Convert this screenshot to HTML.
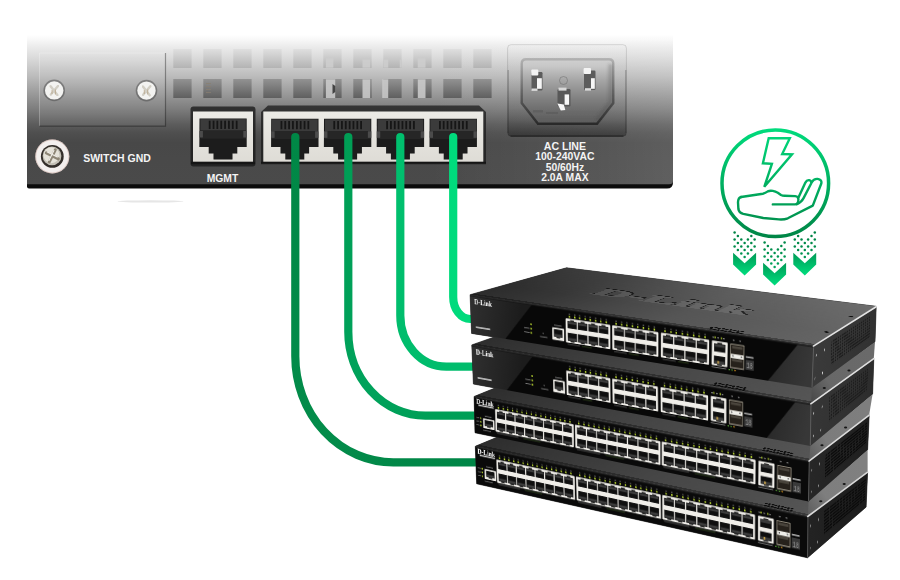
<!DOCTYPE html>
<html><head><meta charset="utf-8"><title>Stack diagram</title>
<style>
html,body{margin:0;padding:0;background:#fff}
body{width:900px;height:580px;overflow:hidden;position:relative;font-family:"Liberation Sans",sans-serif}
svg{position:absolute;left:0;top:0;display:block}
svg text{font-family:"Liberation Sans",sans-serif}
svg text.fs{font-family:"Liberation Serif",serif}
svg text.fm{font-family:"Liberation Mono",monospace}
.face{position:absolute;left:0;top:0;transform-origin:0 0;overflow:hidden}
</style></head><body>
<svg width="900" height="580" viewBox="0 0 900 580">
<defs>
<linearGradient id="pg" x1="0" y1="35" x2="0" y2="184.3" gradientUnits="userSpaceOnUse">
<stop offset="0.0000" stop-color="#ffffff"/>
<stop offset="0.0335" stop-color="#f7f7f7"/>
<stop offset="0.0636" stop-color="#efefef"/>
<stop offset="0.1708" stop-color="#d6d6d6"/>
<stop offset="0.2780" stop-color="#bbbbbb"/>
<stop offset="0.3851" stop-color="#9c9c9c"/>
<stop offset="0.4923" stop-color="#7e7e7e"/>
<stop offset="0.5995" stop-color="#5c5c5c"/>
<stop offset="0.6564" stop-color="#4f4f4f"/>
<stop offset="0.7200" stop-color="#484848"/>
<stop offset="0.8372" stop-color="#494949"/>
<stop offset="1.0000" stop-color="#4a4a4a"/>
</linearGradient>
<linearGradient id="vg" x1="0" y1="49" x2="0" y2="98" gradientUnits="userSpaceOnUse">
<stop offset="0.0000" stop-color="#dfdfdf"/>
<stop offset="0.3878" stop-color="#b3b3b3"/>
<stop offset="0.6122" stop-color="#929292"/>
<stop offset="1.0000" stop-color="#5f5f5f"/>
</linearGradient>
<linearGradient id="cav" x1="0" y1="0" x2="0" y2="1">
<stop offset="0" stop-color="#3a3a3a"/><stop offset="0.35" stop-color="#1c1c1c"/><stop offset="1" stop-color="#0c0c0c"/>
</linearGradient>
<linearGradient id="frame" x1="0" y1="0" x2="0" y2="1">
<stop offset="0" stop-color="#ecebe6"/><stop offset="1" stop-color="#dedcd6"/>
</linearGradient>
<linearGradient id="acg" x1="0" y1="44" x2="0" y2="137" gradientUnits="userSpaceOnUse">
<stop offset="0" stop-color="#000" stop-opacity="0"/><stop offset="0.5" stop-color="#000" stop-opacity=".04"/><stop offset="0.82" stop-color="#000" stop-opacity=".12"/><stop offset="0.94" stop-color="#000" stop-opacity=".25"/><stop offset="1" stop-color="#000" stop-opacity=".33"/>
</linearGradient>
<linearGradient id="acg2" x1="0" y1="59" x2="0" y2="124" gradientUnits="userSpaceOnUse"><stop offset="0.000" stop-color="#d0d0d0"/><stop offset="0.108" stop-color="#c8c8c8"/><stop offset="0.323" stop-color="#a6a6a6"/><stop offset="0.631" stop-color="#7e7e7e"/><stop offset="0.815" stop-color="#6a6a6a"/><stop offset="1.000" stop-color="#5a5a5a"/></linearGradient>
<linearGradient id="acrim" x1="0" y1="59" x2="0" y2="124" gradientUnits="userSpaceOnUse">
<stop offset="0" stop-color="#9a9a9a" stop-opacity=".6"/><stop offset="0.5" stop-color="#5a5a5a" stop-opacity=".8"/><stop offset="1" stop-color="#2a2a2a"/>
</linearGradient>
<radialGradient id="scr" cx="0.45" cy="0.4" r="0.6">
<stop offset="0" stop-color="#ffffff"/><stop offset="0.7" stop-color="#e4e2da"/><stop offset="1" stop-color="#9a978c"/>
</radialGradient>
<linearGradient id="plr" x1="430" y1="0" x2="673" y2="0" gradientUnits="userSpaceOnUse"><stop offset="0" stop-color="#fff" stop-opacity="0"/><stop offset="0.29" stop-color="#fff" stop-opacity=".03"/><stop offset="0.7" stop-color="#fff" stop-opacity=".075"/><stop offset="1" stop-color="#fff" stop-opacity=".12"/></linearGradient>
<filter id="b05" x="-10%" y="-10%" width="120%" height="120%"><feGaussianBlur stdDeviation="0.4"/></filter>
<filter id="b1" x="-10%" y="-10%" width="120%" height="120%"><feGaussianBlur stdDeviation="0.6"/></filter>
<filter id="b2" x="-20%" y="-20%" width="140%" height="140%"><feGaussianBlur stdDeviation="1.5"/></filter>
</defs>
<path d="M27,35 H673 V182.6 Q673,188.6 667,188.6 H29 Q27,188.6 27,186.6 Z" fill="#0c0c0c"/>
<path d="M27,35 H673 V181 Q673,184.3 669,184.3 H27 Z" fill="url(#pg)"/>
<path d="M430,35 H673 V181 Q673,184.3 669,184.3 H430 Z" fill="url(#plr)"/>
<ellipse cx="150.5" cy="201.4" rx="33" ry="1.1" fill="#e6e6e6" filter="url(#b1)"/>
<rect x="39.5" y="53" width="126" height="73.2" fill="#fff" opacity=".05"/>
<path d="M39.5,126.2 V53 H165.5" fill="none" stroke="#fff" stroke-opacity=".25" stroke-width="1"/>
<path d="M39.5,126.2 H165.5 V53" fill="none" stroke="#000" stroke-opacity=".35" stroke-width="1.2"/>
<circle cx="54.2" cy="90.4" r="10.8" fill="#4a4a4a" opacity=".5" filter="url(#b1)"/>
<circle cx="54.2" cy="90.4" r="9.2" fill="#f3f3f1" filter="url(#b05)"/>
<path d="M50.6,86.2 L57.400000000000006,95.0 M58.0,86.0 L50.800000000000004,94.60000000000001" stroke="#b8b2a2" stroke-width="2.4" stroke-linecap="round" opacity=".55" filter="url(#b05)"/>
<path d="M55.400000000000006,89.4 v5 M52.0,89.9 v4" stroke="#a88f6a" stroke-width="1.1" opacity=".5"/>
<circle cx="146.5" cy="90.6" r="10.8" fill="#4a4a4a" opacity=".5" filter="url(#b1)"/>
<circle cx="146.5" cy="90.6" r="9.2" fill="#f3f3f1" filter="url(#b05)"/>
<path d="M142.9,86.39999999999999 L149.7,95.19999999999999 M150.3,86.19999999999999 L143.1,94.8" stroke="#b8b2a2" stroke-width="2.4" stroke-linecap="round" opacity=".55" filter="url(#b05)"/>
<path d="M147.7,89.6 v5 M144.3,90.1 v4" stroke="#a88f6a" stroke-width="1.1" opacity=".5"/>
<circle cx="52.3" cy="156.4" r="17" fill="#f3efee"/>
<circle cx="52.3" cy="156.4" r="16.6" fill="none" stroke="#c9a8a0" stroke-width=".8" opacity=".7"/>
<circle cx="52.3" cy="156.4" r="11.4" fill="#332e2a"/>
<circle cx="52.0" cy="155.9" r="9.4" fill="#c4c0b6"/>
<circle cx="51.5" cy="155.20000000000002" r="8.0" fill="#e6e3da"/>
<path d="M46.3,152.9 L58.3,158.9 M55.3,149.9 L49.3,161.9" stroke="#8e8676" stroke-width="3" stroke-linecap="round"/>
<path d="M47.3,152.1 L57.3,157.1 M53.9,150.4 L48.9,160.4" stroke="#f2f0ea" stroke-width="1.1" stroke-linecap="round"/>
<text x="83.2" y="162.3" font-size="10.8" font-weight="700" fill="#f4f4f4" textLength="67.6" lengthAdjust="spacingAndGlyphs">SWITCH GND</text>
<text x="206.7" y="181.7" font-size="10.5" font-weight="700" fill="#f4f4f4" textLength="31.6" lengthAdjust="spacingAndGlyphs">MGMT</text>
<rect x="173.3" y="49" width="18.3" height="19" fill="url(#vg)"/>
<rect x="203.3" y="49" width="18.3" height="19" fill="url(#vg)"/>
<rect x="233.3" y="49" width="18.3" height="19" fill="url(#vg)"/>
<rect x="263.3" y="49" width="18.3" height="19" fill="url(#vg)"/>
<rect x="293.3" y="49" width="18.3" height="19" fill="url(#vg)"/>
<rect x="323.3" y="49" width="18.3" height="19" fill="url(#vg)"/>
<rect x="353.3" y="49" width="18.3" height="19" fill="url(#vg)"/>
<rect x="383.3" y="49" width="18.3" height="19" fill="url(#vg)"/>
<rect x="413.3" y="49" width="18.3" height="19" fill="url(#vg)"/>
<rect x="443.3" y="49" width="18.3" height="19" fill="url(#vg)"/>
<rect x="473.3" y="49" width="18.3" height="19" fill="url(#vg)"/>
<rect x="173.3" y="79" width="18.3" height="19" fill="url(#vg)"/>
<rect x="203.3" y="79" width="18.3" height="19" fill="url(#vg)"/>
<rect x="233.3" y="79" width="18.3" height="19" fill="url(#vg)"/>
<rect x="263.3" y="79" width="18.3" height="19" fill="url(#vg)"/>
<rect x="293.3" y="79" width="18.3" height="19" fill="url(#vg)"/>
<rect x="323.3" y="79" width="18.3" height="19" fill="url(#vg)"/>
<rect x="353.3" y="79" width="18.3" height="19" fill="url(#vg)"/>
<rect x="383.3" y="79" width="18.3" height="19" fill="url(#vg)"/>
<rect x="413.3" y="79" width="18.3" height="19" fill="url(#vg)"/>
<rect x="443.3" y="79" width="18.3" height="19" fill="url(#vg)"/>
<rect x="473.3" y="79" width="18.3" height="19" fill="url(#vg)"/>
<rect x="325.9" y="58.3" width="7.4" height="9.4" fill="#cfcfcf" opacity=".85" filter="url(#b05)"/>
<rect x="362.5" y="59.5" width="7.7" height="8.2" fill="#cfcfcf" opacity=".85" filter="url(#b05)"/>
<rect x="383.5" y="59.5" width="4.7" height="8.2" fill="#cfcfcf" opacity=".85" filter="url(#b05)"/>
<rect x="399.8" y="59.5" width="1.9" height="8.2" fill="#cfcfcf" opacity=".85" filter="url(#b05)"/>
<rect x="417.8" y="58.3" width="7.7" height="9.4" fill="#cfcfcf" opacity=".85" filter="url(#b05)"/>
<rect x="325.9" y="79.3" width="9.3" height="18.7" fill="#cfcfcf" opacity=".85" filter="url(#b05)"/>
<rect x="362.5" y="79.3" width="7.7" height="18.7" fill="#cfcfcf" opacity=".85" filter="url(#b05)"/>
<rect x="382.3" y="79.3" width="5.9" height="18.7" fill="#cfcfcf" opacity=".85" filter="url(#b05)"/>
<rect x="417.8" y="79.3" width="7.7" height="18.7" fill="#cfcfcf" opacity=".85" filter="url(#b05)"/>
<path d="M332.5,84 l2.8,2 v6 l-2.8,2 z" fill="#444"/>
<g fill="#8a7f70" opacity=".7"><rect x="206" y="83" width="5" height="1"/><rect x="206" y="86" width="5" height="1"/><rect x="206" y="89" width="5" height="1"/><rect x="206" y="92" width="5" height="1"/></g>
<rect x="190.5" y="106.5" width="65" height="60" rx="3" fill="#1b1b1b" opacity=".8"/>
<rect x="193" y="111.5" width="60" height="50.3" fill="url(#frame)"/>
<g filter="url(#b05)"><path d="M199.5,118.5 h47.2 v28.5 h-9.4 v6.5 h-4.8 v6 h-19.0 v-6 h-4.8 v-6.5 h-9.4 z" fill="#1a1a1a"/>
<rect x="200.3" y="119.1" width="45.6" height="11.6" fill="#3a3a3a"/>
<rect x="200.3" y="130.7" width="45.6" height="8" fill="#262626"/>
<rect x="208.8" y="120.7" width="1.7" height="8.2" fill="#141414"/>
<rect x="212.7" y="120.7" width="1.7" height="8.2" fill="#141414"/>
<rect x="216.5" y="120.7" width="1.7" height="8.2" fill="#141414"/>
<rect x="220.4" y="120.7" width="1.7" height="8.2" fill="#141414"/>
<rect x="224.2" y="120.7" width="1.7" height="8.2" fill="#141414"/>
<rect x="228.1" y="120.7" width="1.7" height="8.2" fill="#141414"/>
<rect x="231.9" y="120.7" width="1.7" height="8.2" fill="#141414"/>
<rect x="235.8" y="120.7" width="1.7" height="8.2" fill="#141414"/>
<rect x="199.5" y="131.0" width="3.4" height="6.5" fill="#4c4c4c"/>
<rect x="243.3" y="131.0" width="3.4" height="6.5" fill="#4c4c4c"/></g>
<path d="M261,163 V112 L268,105.5 H479 L486,112 V163 Z" fill="#1b1b1b" opacity=".75"/>
<rect x="263.3" y="111.5" width="220" height="50.3" fill="url(#frame)"/>
<g filter="url(#b05)"><path d="M271.2,118.8 h47.3 v28.2 h-9.4 v6.5 h-4.8 v6 h-19.0 v-6 h-4.8 v-6.5 h-9.4 z" fill="#1a1a1a"/>
<rect x="272.0" y="119.4" width="45.7" height="11.6" fill="#3a3a3a"/>
<rect x="272.0" y="131.0" width="45.7" height="8" fill="#262626"/>
<rect x="280.6" y="121.0" width="1.7" height="8.2" fill="#141414"/>
<rect x="284.4" y="121.0" width="1.7" height="8.2" fill="#141414"/>
<rect x="288.3" y="121.0" width="1.7" height="8.2" fill="#141414"/>
<rect x="292.1" y="121.0" width="1.7" height="8.2" fill="#141414"/>
<rect x="296.0" y="121.0" width="1.7" height="8.2" fill="#141414"/>
<rect x="299.8" y="121.0" width="1.7" height="8.2" fill="#141414"/>
<rect x="303.7" y="121.0" width="1.7" height="8.2" fill="#141414"/>
<rect x="307.5" y="121.0" width="1.7" height="8.2" fill="#141414"/>
<rect x="271.2" y="131.3" width="3.4" height="6.5" fill="#4c4c4c"/>
<rect x="315.1" y="131.3" width="3.4" height="6.5" fill="#4c4c4c"/></g>
<g filter="url(#b05)"><path d="M324.0,118.8 h47.3 v28.2 h-9.4 v6.5 h-4.8 v6 h-19.0 v-6 h-4.8 v-6.5 h-9.4 z" fill="#1a1a1a"/>
<rect x="324.8" y="119.4" width="45.7" height="11.6" fill="#3a3a3a"/>
<rect x="324.8" y="131.0" width="45.7" height="8" fill="#262626"/>
<rect x="333.4" y="121.0" width="1.7" height="8.2" fill="#141414"/>
<rect x="337.2" y="121.0" width="1.7" height="8.2" fill="#141414"/>
<rect x="341.1" y="121.0" width="1.7" height="8.2" fill="#141414"/>
<rect x="344.9" y="121.0" width="1.7" height="8.2" fill="#141414"/>
<rect x="348.8" y="121.0" width="1.7" height="8.2" fill="#141414"/>
<rect x="352.6" y="121.0" width="1.7" height="8.2" fill="#141414"/>
<rect x="356.5" y="121.0" width="1.7" height="8.2" fill="#141414"/>
<rect x="360.3" y="121.0" width="1.7" height="8.2" fill="#141414"/>
<rect x="324.0" y="131.3" width="3.4" height="6.5" fill="#4c4c4c"/>
<rect x="367.9" y="131.3" width="3.4" height="6.5" fill="#4c4c4c"/></g>
<g filter="url(#b05)"><path d="M376.8,118.8 h47.3 v28.2 h-9.4 v6.5 h-4.8 v6 h-19.0 v-6 h-4.8 v-6.5 h-9.4 z" fill="#1a1a1a"/>
<rect x="377.6" y="119.4" width="45.7" height="11.6" fill="#3a3a3a"/>
<rect x="377.6" y="131.0" width="45.7" height="8" fill="#262626"/>
<rect x="386.2" y="121.0" width="1.7" height="8.2" fill="#141414"/>
<rect x="390.0" y="121.0" width="1.7" height="8.2" fill="#141414"/>
<rect x="393.9" y="121.0" width="1.7" height="8.2" fill="#141414"/>
<rect x="397.7" y="121.0" width="1.7" height="8.2" fill="#141414"/>
<rect x="401.6" y="121.0" width="1.7" height="8.2" fill="#141414"/>
<rect x="405.4" y="121.0" width="1.7" height="8.2" fill="#141414"/>
<rect x="409.3" y="121.0" width="1.7" height="8.2" fill="#141414"/>
<rect x="413.1" y="121.0" width="1.7" height="8.2" fill="#141414"/>
<rect x="376.8" y="131.3" width="3.4" height="6.5" fill="#4c4c4c"/>
<rect x="420.7" y="131.3" width="3.4" height="6.5" fill="#4c4c4c"/></g>
<g filter="url(#b05)"><path d="M429.6,118.8 h47.3 v28.2 h-9.4 v6.5 h-4.8 v6 h-19.0 v-6 h-4.8 v-6.5 h-9.4 z" fill="#1a1a1a"/>
<rect x="430.4" y="119.4" width="45.7" height="11.6" fill="#3a3a3a"/>
<rect x="430.4" y="131.0" width="45.7" height="8" fill="#262626"/>
<rect x="439.0" y="121.0" width="1.7" height="8.2" fill="#141414"/>
<rect x="442.8" y="121.0" width="1.7" height="8.2" fill="#141414"/>
<rect x="446.7" y="121.0" width="1.7" height="8.2" fill="#141414"/>
<rect x="450.5" y="121.0" width="1.7" height="8.2" fill="#141414"/>
<rect x="454.4" y="121.0" width="1.7" height="8.2" fill="#141414"/>
<rect x="458.2" y="121.0" width="1.7" height="8.2" fill="#141414"/>
<rect x="462.1" y="121.0" width="1.7" height="8.2" fill="#141414"/>
<rect x="465.9" y="121.0" width="1.7" height="8.2" fill="#141414"/>
<rect x="429.6" y="131.3" width="3.4" height="6.5" fill="#4c4c4c"/>
<rect x="473.5" y="131.3" width="3.4" height="6.5" fill="#4c4c4c"/></g>
<rect x="261" y="161.8" width="225" height="2.4" fill="#111" opacity=".8"/>
<rect x="191" y="161.8" width="64" height="2.4" fill="#111" opacity=".8"/>
<rect x="507.6" y="44.7" width="118.8" height="91.6" rx="3.5" fill="url(#acg)"/>
<rect x="507.6" y="44.7" width="118.8" height="91.6" rx="3.5" fill="none" stroke="#000" stroke-opacity=".12" stroke-width="1"/>
<path d="M526,59.3 H609 Q613.3,59.3 613.3,63.6 V103 L597,123.8 H538 L521.7,103 V63.6 Q521.7,59.3 526,59.3 Z" fill="url(#acg2)" stroke="url(#acrim)" stroke-width="2.4" filter="url(#b1)"/>
<path d="M610.5,64 V102 L596,121" fill="none" stroke="#444" stroke-opacity=".3" stroke-width="4" filter="url(#b2)"/>
<path d="M510.5,136.2 H623.5" fill="none" stroke="#181818" stroke-opacity=".7" stroke-width="1.3"/>
<path d="M508.2,70 V133 M625.8,70 V133" fill="none" stroke="#181818" stroke-opacity=".25" stroke-width="1.2"/>
<path d="M597,122.6 H538" fill="none" stroke="#262626" stroke-opacity=".9" stroke-width="2.6" filter="url(#b1)"/>
<g filter="url(#b05)">
<rect x="531.5" y="72" width="11" height="18.5" rx="1.2" fill="#5c5c5c"/><rect x="531.3" y="69.4" width="7" height="6" rx="1" fill="#f4f4f4"/><rect x="537" y="78.2" width="4.8" height="10.6" fill="#f6f6f6"/><rect x="531.5" y="88.5" width="6" height="2.4" fill="#dcdcdc"/>
<rect x="584" y="70.5" width="11.5" height="19.5" rx="1.2" fill="#5c5c5c"/><rect x="583.6" y="68" width="7.4" height="6" rx="1" fill="#f4f4f4"/><rect x="591" y="78.2" width="3.8" height="10.6" fill="#f6f6f6"/><rect x="585" y="88.2" width="6" height="2.4" fill="#dcdcdc"/>
<rect x="557.5" y="89" width="13" height="17.5" rx="1.2" fill="#585858"/><rect x="558.5" y="87.6" width="8" height="3" fill="#d8d8d8"/><rect x="564.6" y="94.4" width="4.5" height="10.4" fill="#f6f6f6"/><path d="M557.3,103.5 l6.5,1 l1.5,5.5 l-4.5,0.6 z" fill="#f6f6f6"/>
</g>
<circle cx="563.5" cy="80.5" r="4" fill="none" stroke="#666" stroke-width="0.8" opacity=".6"/>
<path d="M533,111 h10 M546,113.5 h12" stroke="#555" stroke-width="3" opacity=".45" filter="url(#b1)"/>
<text x="564.9" y="149.9" font-size="10.6" font-weight="700" fill="#f4f4f4" text-anchor="middle" textLength="42.2" lengthAdjust="spacingAndGlyphs">AC LINE</text>
<text x="564.9" y="160.3" font-size="10.6" font-weight="700" fill="#f4f4f4" text-anchor="middle" textLength="59.2" lengthAdjust="spacingAndGlyphs">100-240VAC</text>
<text x="564.9" y="170.6" font-size="10.6" font-weight="700" fill="#f4f4f4" text-anchor="middle" textLength="38.4" lengthAdjust="spacingAndGlyphs">50/60Hz</text>
<text x="564.9" y="181.0" font-size="10.6" font-weight="700" fill="#f4f4f4" text-anchor="middle" textLength="47.3" lengthAdjust="spacingAndGlyphs">2.0A MAX</text>
<defs>
<linearGradient id="c1" x1="295" y1="133" x2="476" y2="462" gradientUnits="userSpaceOnUse"><stop offset="0" stop-color="#008746"/><stop offset="0.75" stop-color="#038c4a"/><stop offset="1" stop-color="#008546"/></linearGradient>
<linearGradient id="c2" x1="348" y1="133" x2="474" y2="416" gradientUnits="userSpaceOnUse"><stop offset="0" stop-color="#009e55"/><stop offset="0.8" stop-color="#00a25b"/><stop offset="1" stop-color="#009e56"/></linearGradient>
<linearGradient id="c3" x1="400" y1="133" x2="472" y2="367" gradientUnits="userSpaceOnUse"><stop offset="0" stop-color="#00c06e"/><stop offset="1" stop-color="#00bc6c"/></linearGradient>
<linearGradient id="c4" x1="453" y1="133" x2="472" y2="319" gradientUnits="userSpaceOnUse"><stop offset="0" stop-color="#00dc7d"/><stop offset="1" stop-color="#00da7c"/></linearGradient>
</defs>
<path d="M295.3,137 V356.3 A98,106 0 0 0 393.3,462.3 H477" fill="none" stroke="url(#c1)" stroke-width="8.2" stroke-linecap="round"/>
<path d="M348.3,137 V331.7 A77,84 0 0 0 425.3,415.7 H476" fill="none" stroke="url(#c2)" stroke-width="8.2" stroke-linecap="round"/>
<path d="M400.3,137 V315.6 A46,51 0 0 0 446.3,366.6 H474" fill="none" stroke="url(#c3)" stroke-width="8.2" stroke-linecap="round"/>
<path d="M453.2,137 V297.0 A17,22 0 0 0 470.2,319.0 H473" fill="none" stroke="url(#c4)" stroke-width="8.2" stroke-linecap="round"/>
<defs>
<linearGradient id="ig" x1="0" y1="128" x2="0" y2="238" gradientUnits="userSpaceOnUse"><stop offset="0" stop-color="#00dc7d"/><stop offset="1" stop-color="#008546"/></linearGradient>
<linearGradient id="ag" x1="0" y1="232" x2="0" y2="270" gradientUnits="userSpaceOnUse"><stop offset="0" stop-color="#008244"/><stop offset="0.5" stop-color="#008f4d"/><stop offset="1" stop-color="#00a85e"/></linearGradient>
<linearGradient id="ag2" x1="0" y1="0" x2="0" y2="1"><stop offset="0" stop-color="#009a56"/><stop offset="1" stop-color="#00de7e"/></linearGradient>
</defs>
<circle cx="775.3" cy="183.3" r="53.3" fill="none" stroke="url(#ig)" stroke-width="3.5"/>
<path d="M768.7,138.3 L789.8,138.3 L782.2,154 L792,154.3 L764.3,186.8 L771.9,163.8 L762.9,163.3 Z" fill="none" stroke="url(#ig)" stroke-width="2.4" stroke-linejoin="miter"/>
<path d="M741.1,197 L762.8,193.7 Q765.5,193.2 767.8,191.4 Q770,190.3 772.8,190.9 Q775.5,191.5 777.8,192.8 L781,195 Q782.5,195.8 784.5,195.8 L795.2,196.1 Q798.4,196.3 798.4,199.4 Q798.3,204.4 795,204.4 L772.8,204.4" fill="none" stroke="url(#ig)" stroke-width="2.4" stroke-linejoin="round" stroke-linecap="round"/>
<path d="M798.6,197.3 L805.4,182.6 Q806.8,179.8 809.2,180.2 Q812.2,181 811,183.8 L803.3,198.6 Q801.5,202.3 797,204.2" fill="none" stroke="url(#ig)" stroke-width="2.4" stroke-linejoin="round" stroke-linecap="round"/>
<path d="M811.6,182.4 Q813.8,178.6 817.5,178.9 Q822.4,179.8 821.2,183.8 L812.8,205.6 L787.8,218.3 Q784,219.8 778.9,219.4 L763.3,218 L743.3,213.9 Q738.9,212.8 738.4,209 L738,202.2 Q738.2,197.8 741.1,197" fill="none" stroke="url(#ig)" stroke-width="2.4" stroke-linejoin="round" stroke-linecap="round"/>
<g fill="url(#ag)">
<path d="M733.1,252.8 L744.6,263.3 L756.1,252.8 V264.5 L744.6,275.6 L733.1,264.5 Z" fill="url(#ag2)"/>
<circle cx="734.6" cy="232.6" r="1.25"/>
<circle cx="734.6" cy="239.6" r="1.25"/>
<circle cx="734.6" cy="246.6" r="1.25"/>
<circle cx="737.9" cy="236.1" r="1.25"/>
<circle cx="737.9" cy="243.1" r="1.25"/>
<circle cx="737.9" cy="250.1" r="1.25"/>
<circle cx="741.3" cy="239.6" r="1.25"/>
<circle cx="741.3" cy="246.6" r="1.25"/>
<circle cx="741.3" cy="253.6" r="1.25"/>
<circle cx="744.6" cy="243.1" r="1.25"/>
<circle cx="744.6" cy="250.1" r="1.25"/>
<circle cx="744.6" cy="257.1" r="1.25"/>
<circle cx="747.9" cy="239.6" r="1.25"/>
<circle cx="747.9" cy="246.6" r="1.25"/>
<circle cx="747.9" cy="253.6" r="1.25"/>
<circle cx="751.3" cy="236.1" r="1.25"/>
<circle cx="751.3" cy="243.1" r="1.25"/>
<circle cx="751.3" cy="250.1" r="1.25"/>
<circle cx="754.6" cy="239.6" r="1.25"/>
<circle cx="754.6" cy="246.6" r="1.25"/>
<path d="M763.1,262.8 L774.6,273.3 L786.1,262.8 V274.5 L774.6,285.6 L763.1,274.5 Z" fill="url(#ag2)"/>
<circle cx="764.6" cy="242.6" r="1.25"/>
<circle cx="764.6" cy="249.6" r="1.25"/>
<circle cx="764.6" cy="256.6" r="1.25"/>
<circle cx="767.9" cy="246.1" r="1.25"/>
<circle cx="767.9" cy="253.1" r="1.25"/>
<circle cx="767.9" cy="260.1" r="1.25"/>
<circle cx="771.3" cy="249.6" r="1.25"/>
<circle cx="771.3" cy="256.6" r="1.25"/>
<circle cx="771.3" cy="263.6" r="1.25"/>
<circle cx="774.6" cy="253.1" r="1.25"/>
<circle cx="774.6" cy="260.1" r="1.25"/>
<circle cx="774.6" cy="267.1" r="1.25"/>
<circle cx="777.9" cy="249.6" r="1.25"/>
<circle cx="777.9" cy="256.6" r="1.25"/>
<circle cx="777.9" cy="263.6" r="1.25"/>
<circle cx="781.3" cy="246.1" r="1.25"/>
<circle cx="781.3" cy="253.1" r="1.25"/>
<circle cx="781.3" cy="260.1" r="1.25"/>
<circle cx="784.6" cy="242.6" r="1.25"/>
<circle cx="784.6" cy="249.6" r="1.25"/>
<circle cx="784.6" cy="256.6" r="1.25"/>
<path d="M793.3,252.8 L804.8,263.3 L816.2,252.8 V264.5 L804.8,275.6 L793.3,264.5 Z" fill="url(#ag2)"/>
<circle cx="794.8" cy="239.6" r="1.25"/>
<circle cx="794.8" cy="246.6" r="1.25"/>
<circle cx="798.1" cy="236.1" r="1.25"/>
<circle cx="798.1" cy="243.1" r="1.25"/>
<circle cx="798.1" cy="250.1" r="1.25"/>
<circle cx="801.5" cy="239.6" r="1.25"/>
<circle cx="801.5" cy="246.6" r="1.25"/>
<circle cx="801.5" cy="253.6" r="1.25"/>
<circle cx="804.8" cy="243.1" r="1.25"/>
<circle cx="804.8" cy="250.1" r="1.25"/>
<circle cx="804.8" cy="257.1" r="1.25"/>
<circle cx="808.1" cy="239.6" r="1.25"/>
<circle cx="808.1" cy="246.6" r="1.25"/>
<circle cx="808.1" cy="253.6" r="1.25"/>
<circle cx="811.5" cy="236.1" r="1.25"/>
<circle cx="811.5" cy="243.1" r="1.25"/>
<circle cx="811.5" cy="250.1" r="1.25"/>
<circle cx="814.8" cy="232.6" r="1.25"/>
<circle cx="814.8" cy="239.6" r="1.25"/>
<circle cx="814.8" cy="246.6" r="1.25"/>
</g>
<polygon points="475.3,446.3 570.4,406.8 867.6,471.8 866.1,507.1 807.5,557.8 476.7,483.8" fill="#1c1c1c" stroke="#1c1c1c" stroke-width="0.6" stroke-linejoin="round"/>
<polygon points="474.1,396.5 569.0,358.0 869.2,414.7 867.6,449.7 808.5,501.4 475.0,432.8" fill="#1c1c1c" stroke="#1c1c1c" stroke-width="0.6" stroke-linejoin="round"/>
<polygon points="471.8,344.9 568.0,311.0 873.8,358.3 872.6,393.9 810.3,446.0 473.4,384.0" fill="#1c1c1c" stroke="#1c1c1c" stroke-width="0.6" stroke-linejoin="round"/>
<polygon points="470.1,294.7 566.5,267.8 876.2,306.3 875.0,341.8 812.0,387.8 471.6,333.4" fill="#1c1c1c" stroke="#1c1c1c" stroke-width="0.6" stroke-linejoin="round"/>
</svg>
<div class="face" style="width:440px;height:260px;transform:matrix3d(0.76339504,0.19554922,0,0.00010136064,-0.54570487,-0.017033949,0,-0.00037857277,0,0,1,0,570.4,406.8,0,1)"><svg width="440" height="260" viewBox="0 0 440 260"><defs><linearGradient id="tg4" x1="0" y1="0" x2="1" y2="0"><stop offset="0" stop-color="#2e2e2e"/><stop offset="0.3" stop-color="#3c3c3c"/><stop offset="0.5" stop-color="#464646"/><stop offset="0.8" stop-color="#4e4e4e"/><stop offset="1" stop-color="#565656"/></linearGradient>
<linearGradient id="tf4" x1="0" y1="0" x2="0" y2="1"><stop offset="0" stop-color="#fff" stop-opacity=".06"/><stop offset="0.7" stop-color="#fff" stop-opacity="0"/></linearGradient></defs><rect width="440" height="260" fill="url(#tg4)"/><rect width="440" height="260" fill="url(#tf4)"/><rect x="0" y="251" width="440" height="7" fill="#000" opacity=".32"/><ellipse cx="432" cy="84" rx="2.6" ry="3.4" fill="#111"/><ellipse cx="432" cy="185" rx="2.6" ry="3.4" fill="#111"/><rect x="375.0" y="240.0" width="3.0" height="6.5" rx="1.2" fill="#0c0c0c"/><rect x="379.4" y="240.0" width="3.0" height="6.5" rx="1.2" fill="#0c0c0c"/><rect x="383.8" y="240.0" width="3.0" height="6.5" rx="1.2" fill="#0c0c0c"/><rect x="388.2" y="240.0" width="3.0" height="6.5" rx="1.2" fill="#0c0c0c"/><rect x="392.6" y="240.0" width="3.0" height="6.5" rx="1.2" fill="#0c0c0c"/><rect x="397.0" y="240.0" width="3.0" height="6.5" rx="1.2" fill="#0c0c0c"/><rect x="401.4" y="240.0" width="3.0" height="6.5" rx="1.2" fill="#0c0c0c"/><rect x="405.8" y="240.0" width="3.0" height="6.5" rx="1.2" fill="#0c0c0c"/><rect x="410.2" y="240.0" width="3.0" height="6.5" rx="1.2" fill="#0c0c0c"/><rect x="377.2" y="249.0" width="3.0" height="6.5" rx="1.2" fill="#0c0c0c"/><rect x="381.6" y="249.0" width="3.0" height="6.5" rx="1.2" fill="#0c0c0c"/><rect x="386.0" y="249.0" width="3.0" height="6.5" rx="1.2" fill="#0c0c0c"/><rect x="390.4" y="249.0" width="3.0" height="6.5" rx="1.2" fill="#0c0c0c"/><rect x="394.8" y="249.0" width="3.0" height="6.5" rx="1.2" fill="#0c0c0c"/><rect x="399.2" y="249.0" width="3.0" height="6.5" rx="1.2" fill="#0c0c0c"/><rect x="403.6" y="249.0" width="3.0" height="6.5" rx="1.2" fill="#0c0c0c"/><rect x="408.0" y="249.0" width="3.0" height="6.5" rx="1.2" fill="#0c0c0c"/><rect x="412.4" y="249.0" width="3.0" height="6.5" rx="1.2" fill="#0c0c0c"/></svg></div>
<div class="face" style="width:260px;height:44px;transform:matrix3d(0.94128621,0.21623664,0,0.00082027527,0.43559385,1.2526312,0,0.0005506932,0,0,1,0,807.9,516.2,0,1)"><svg width="260" height="44" viewBox="0 0 260 44"><defs><linearGradient id="sg4" x1="0" y1="0" x2="1" y2="0"><stop offset="0" stop-color="#232323"/><stop offset="1" stop-color="#1b1b1b"/></linearGradient>
<pattern id="vp4" x="0" y="0" width="14" height="3.4" patternUnits="userSpaceOnUse"><rect x="0.8" y="0.7" width="12.6" height="1.9" rx="0.9" fill="#0a0a0a"/></pattern></defs><rect width="260" height="44" fill="url(#sg4)"/><rect x="63" y="7.2" width="189" height="27.2" fill="url(#vp4)"/><circle cx="10.5" cy="12.2" r="1.6" fill="#808080"/><circle cx="40" cy="12.2" r="1.6" fill="#808080"/><circle cx="9.5" cy="36" r="1.6" fill="#808080"/><circle cx="37" cy="36" r="1.6" fill="#808080"/></svg></div>
<div class="face" style="width:440px;height:44px;transform:matrix3d(0.55759771,0.032154474,0,-0.00024546525,0.089355396,0.9106669,0,0.000120699,0,0,1,0,475.3,446.3,0,1)"><svg width="440" height="44" viewBox="0 0 440 44"><defs><linearGradient id="bev4" x1="0" y1="0" x2="0" y2="1"><stop offset="0" stop-color="#303030"/><stop offset="1" stop-color="#141414"/></linearGradient></defs><rect width="440" height="44" fill="#0a0a0a"/><rect width="440" height="1.6" fill="url(#bev4)"/><text x="3.0" y="7.6" class="fs" font-weight="700" font-size="7.2" fill="#fff" textLength="25.6" lengthAdjust="spacingAndGlyphs">D-Link</text><rect x="6" y="8.6" width="22.5" height="1.7" fill="#efefef" opacity=".85"/><rect x="8.2" y="23.8" width="1.8" height="1.8" fill="#b4d030"/><rect x="2.5" y="24.2" width="4.6" height="1.0" fill="#aaa" opacity=".6"/><rect x="8.2" y="28.2" width="1.8" height="1.8" fill="#b4d030"/><rect x="2.5" y="28.599999999999998" width="4.6" height="1.0" fill="#aaa" opacity=".6"/><rect x="8.2" y="32.6" width="1.8" height="1.8" fill="#b4d030"/><rect x="2.5" y="33.0" width="4.6" height="1.0" fill="#aaa" opacity=".6"/><rect x="12.5" y="24.3" width="16.7" height="11.6" rx="0.6" fill="#f0eee9"/><rect x="14.60" y="25.90" width="12.50" height="7.30" fill="#242424"/><rect x="18.23" y="33.00" width="5.25" height="1.5" fill="#242424"/><rect x="15.40" y="26.50" width="10.90" height="3.63" fill="#0f0f0f"/><rect x="15.80" y="30.72" width="10.10" height="1.90" fill="#3c3c3c"/><rect x="15" y="20.8" width="10" height="1.0" fill="#aaa" opacity=".7"/><rect x="12" y="38.2" width="12" height="1.0" fill="#aaa" opacity=".6"/><rect x="30.50" y="10.20" width="111.30" height="27.00" rx="0.8" fill="#f0eee9"/><rect x="32.90" y="12.90" width="12.18" height="8.10" fill="#242424"/><rect x="36.43" y="11.60" width="5.11" height="1.5" fill="#242424"/><rect x="33.70" y="16.30" width="10.58" height="4.10" fill="#0f0f0f"/><rect x="34.10" y="13.80" width="9.78" height="2.27" fill="#3c3c3c"/><rect x="32.90" y="26.00" width="12.18" height="9.05" fill="#242424"/><rect x="36.43" y="34.84" width="5.11" height="1.5" fill="#242424"/><rect x="33.70" y="26.60" width="10.58" height="4.65" fill="#0f0f0f"/><rect x="34.10" y="31.96" width="9.78" height="2.35" fill="#3c3c3c"/><rect x="34.60" y="6.90" width="1.7" height="2.3" fill="#b4d030"/><rect x="34.60" y="4.60" width="1.7" height="1.3" fill="#777" opacity=".8"/><rect x="41.67" y="6.90" width="1.7" height="2.3" fill="#b4d030"/><rect x="41.67" y="4.60" width="1.7" height="1.3" fill="#777" opacity=".8"/><rect x="46.38" y="12.90" width="12.18" height="8.10" fill="#242424"/><rect x="49.91" y="11.60" width="5.11" height="1.5" fill="#242424"/><rect x="47.17" y="16.30" width="10.58" height="4.10" fill="#0f0f0f"/><rect x="47.58" y="13.80" width="9.78" height="2.27" fill="#3c3c3c"/><rect x="46.38" y="26.00" width="12.18" height="9.05" fill="#242424"/><rect x="49.91" y="34.84" width="5.11" height="1.5" fill="#242424"/><rect x="47.17" y="26.60" width="10.58" height="4.65" fill="#0f0f0f"/><rect x="47.58" y="31.96" width="9.78" height="2.35" fill="#3c3c3c"/><rect x="48.08" y="6.90" width="1.7" height="2.3" fill="#b4d030"/><rect x="48.08" y="4.60" width="1.7" height="1.3" fill="#777" opacity=".8"/><rect x="55.14" y="6.90" width="1.7" height="2.3" fill="#b4d030"/><rect x="55.14" y="4.60" width="1.7" height="1.3" fill="#777" opacity=".8"/><rect x="59.85" y="12.90" width="12.18" height="8.10" fill="#242424"/><rect x="63.38" y="11.60" width="5.11" height="1.5" fill="#242424"/><rect x="60.65" y="16.30" width="10.58" height="4.10" fill="#0f0f0f"/><rect x="61.05" y="13.80" width="9.78" height="2.27" fill="#3c3c3c"/><rect x="59.85" y="26.00" width="12.18" height="9.05" fill="#242424"/><rect x="63.38" y="34.84" width="5.11" height="1.5" fill="#242424"/><rect x="60.65" y="26.60" width="10.58" height="4.65" fill="#0f0f0f"/><rect x="61.05" y="31.96" width="9.78" height="2.35" fill="#3c3c3c"/><rect x="61.55" y="6.90" width="1.7" height="2.3" fill="#b4d030"/><rect x="61.55" y="4.60" width="1.7" height="1.3" fill="#777" opacity=".8"/><rect x="68.62" y="6.90" width="1.7" height="2.3" fill="#b4d030"/><rect x="68.62" y="4.60" width="1.7" height="1.3" fill="#777" opacity=".8"/><rect x="73.33" y="12.90" width="12.18" height="8.10" fill="#242424"/><rect x="76.86" y="11.60" width="5.11" height="1.5" fill="#242424"/><rect x="74.12" y="16.30" width="10.58" height="4.10" fill="#0f0f0f"/><rect x="74.53" y="13.80" width="9.78" height="2.27" fill="#3c3c3c"/><rect x="73.33" y="26.00" width="12.18" height="9.05" fill="#242424"/><rect x="76.86" y="34.84" width="5.11" height="1.5" fill="#242424"/><rect x="74.12" y="26.60" width="10.58" height="4.65" fill="#0f0f0f"/><rect x="74.53" y="31.96" width="9.78" height="2.35" fill="#3c3c3c"/><rect x="75.03" y="6.90" width="1.7" height="2.3" fill="#b4d030"/><rect x="75.03" y="4.60" width="1.7" height="1.3" fill="#777" opacity=".8"/><rect x="82.09" y="6.90" width="1.7" height="2.3" fill="#b4d030"/><rect x="82.09" y="4.60" width="1.7" height="1.3" fill="#777" opacity=".8"/><rect x="86.80" y="12.90" width="12.18" height="8.10" fill="#242424"/><rect x="90.33" y="11.60" width="5.11" height="1.5" fill="#242424"/><rect x="87.60" y="16.30" width="10.58" height="4.10" fill="#0f0f0f"/><rect x="88.00" y="13.80" width="9.78" height="2.27" fill="#3c3c3c"/><rect x="86.80" y="26.00" width="12.18" height="9.05" fill="#242424"/><rect x="90.33" y="34.84" width="5.11" height="1.5" fill="#242424"/><rect x="87.60" y="26.60" width="10.58" height="4.65" fill="#0f0f0f"/><rect x="88.00" y="31.96" width="9.78" height="2.35" fill="#3c3c3c"/><rect x="88.50" y="6.90" width="1.7" height="2.3" fill="#b4d030"/><rect x="88.50" y="4.60" width="1.7" height="1.3" fill="#777" opacity=".8"/><rect x="95.57" y="6.90" width="1.7" height="2.3" fill="#b4d030"/><rect x="95.57" y="4.60" width="1.7" height="1.3" fill="#777" opacity=".8"/><rect x="100.28" y="12.90" width="12.18" height="8.10" fill="#242424"/><rect x="103.81" y="11.60" width="5.11" height="1.5" fill="#242424"/><rect x="101.08" y="16.30" width="10.58" height="4.10" fill="#0f0f0f"/><rect x="101.48" y="13.80" width="9.78" height="2.27" fill="#3c3c3c"/><rect x="100.28" y="26.00" width="12.18" height="9.05" fill="#242424"/><rect x="103.81" y="34.84" width="5.11" height="1.5" fill="#242424"/><rect x="101.08" y="26.60" width="10.58" height="4.65" fill="#0f0f0f"/><rect x="101.48" y="31.96" width="9.78" height="2.35" fill="#3c3c3c"/><rect x="101.98" y="6.90" width="1.7" height="2.3" fill="#b4d030"/><rect x="101.98" y="4.60" width="1.7" height="1.3" fill="#777" opacity=".8"/><rect x="109.04" y="6.90" width="1.7" height="2.3" fill="#b4d030"/><rect x="109.04" y="4.60" width="1.7" height="1.3" fill="#777" opacity=".8"/><rect x="113.75" y="12.90" width="12.18" height="8.10" fill="#242424"/><rect x="117.28" y="11.60" width="5.11" height="1.5" fill="#242424"/><rect x="114.55" y="16.30" width="10.58" height="4.10" fill="#0f0f0f"/><rect x="114.95" y="13.80" width="9.78" height="2.27" fill="#3c3c3c"/><rect x="113.75" y="26.00" width="12.18" height="9.05" fill="#242424"/><rect x="117.28" y="34.84" width="5.11" height="1.5" fill="#242424"/><rect x="114.55" y="26.60" width="10.58" height="4.65" fill="#0f0f0f"/><rect x="114.95" y="31.96" width="9.78" height="2.35" fill="#3c3c3c"/><rect x="115.45" y="6.90" width="1.7" height="2.3" fill="#b4d030"/><rect x="115.45" y="4.60" width="1.7" height="1.3" fill="#777" opacity=".8"/><rect x="122.52" y="6.90" width="1.7" height="2.3" fill="#b4d030"/><rect x="122.52" y="4.60" width="1.7" height="1.3" fill="#777" opacity=".8"/><rect x="127.23" y="12.90" width="12.18" height="8.10" fill="#242424"/><rect x="130.76" y="11.60" width="5.11" height="1.5" fill="#242424"/><rect x="128.03" y="16.30" width="10.58" height="4.10" fill="#0f0f0f"/><rect x="128.43" y="13.80" width="9.78" height="2.27" fill="#3c3c3c"/><rect x="127.23" y="26.00" width="12.18" height="9.05" fill="#242424"/><rect x="130.76" y="34.84" width="5.11" height="1.5" fill="#242424"/><rect x="128.03" y="26.60" width="10.58" height="4.65" fill="#0f0f0f"/><rect x="128.43" y="31.96" width="9.78" height="2.35" fill="#3c3c3c"/><rect x="128.93" y="6.90" width="1.7" height="2.3" fill="#b4d030"/><rect x="128.93" y="4.60" width="1.7" height="1.3" fill="#777" opacity=".8"/><rect x="135.99" y="6.90" width="1.7" height="2.3" fill="#b4d030"/><rect x="135.99" y="4.60" width="1.7" height="1.3" fill="#777" opacity=".8"/><rect x="32.50" y="38.50" width="31.16" height="0.9" fill="#9a9a9a" opacity=".5"/><rect x="70.57" y="38.50" width="24.49" height="0.9" fill="#5f8f3a" opacity=".45"/><rect x="143.90" y="10.20" width="113.60" height="27.00" rx="0.8" fill="#f0eee9"/><rect x="146.30" y="12.90" width="12.46" height="8.10" fill="#242424"/><rect x="149.91" y="11.60" width="5.23" height="1.5" fill="#242424"/><rect x="147.10" y="16.30" width="10.86" height="4.10" fill="#0f0f0f"/><rect x="147.50" y="13.80" width="10.06" height="2.27" fill="#3c3c3c"/><rect x="146.30" y="26.00" width="12.46" height="9.05" fill="#242424"/><rect x="149.91" y="34.84" width="5.23" height="1.5" fill="#242424"/><rect x="147.10" y="26.60" width="10.86" height="4.65" fill="#0f0f0f"/><rect x="147.50" y="31.96" width="10.06" height="2.35" fill="#3c3c3c"/><rect x="148.04" y="6.90" width="1.7" height="2.3" fill="#b4d030"/><rect x="148.04" y="4.60" width="1.7" height="1.3" fill="#777" opacity=".8"/><rect x="155.27" y="6.90" width="1.7" height="2.3" fill="#b4d030"/><rect x="155.27" y="4.60" width="1.7" height="1.3" fill="#777" opacity=".8"/><rect x="160.06" y="12.90" width="12.46" height="8.10" fill="#242424"/><rect x="163.68" y="11.60" width="5.23" height="1.5" fill="#242424"/><rect x="160.86" y="16.30" width="10.86" height="4.10" fill="#0f0f0f"/><rect x="161.26" y="13.80" width="10.06" height="2.27" fill="#3c3c3c"/><rect x="160.06" y="26.00" width="12.46" height="9.05" fill="#242424"/><rect x="163.68" y="34.84" width="5.23" height="1.5" fill="#242424"/><rect x="160.86" y="26.60" width="10.86" height="4.65" fill="#0f0f0f"/><rect x="161.26" y="31.96" width="10.06" height="2.35" fill="#3c3c3c"/><rect x="161.81" y="6.90" width="1.7" height="2.3" fill="#b4d030"/><rect x="161.81" y="4.60" width="1.7" height="1.3" fill="#777" opacity=".8"/><rect x="169.04" y="6.90" width="1.7" height="2.3" fill="#b4d030"/><rect x="169.04" y="4.60" width="1.7" height="1.3" fill="#777" opacity=".8"/><rect x="173.83" y="12.90" width="12.46" height="8.10" fill="#242424"/><rect x="177.44" y="11.60" width="5.23" height="1.5" fill="#242424"/><rect x="174.63" y="16.30" width="10.86" height="4.10" fill="#0f0f0f"/><rect x="175.03" y="13.80" width="10.06" height="2.27" fill="#3c3c3c"/><rect x="173.83" y="26.00" width="12.46" height="9.05" fill="#242424"/><rect x="177.44" y="34.84" width="5.23" height="1.5" fill="#242424"/><rect x="174.63" y="26.60" width="10.86" height="4.65" fill="#0f0f0f"/><rect x="175.03" y="31.96" width="10.06" height="2.35" fill="#3c3c3c"/><rect x="175.57" y="6.90" width="1.7" height="2.3" fill="#b4d030"/><rect x="175.57" y="4.60" width="1.7" height="1.3" fill="#777" opacity=".8"/><rect x="182.80" y="6.90" width="1.7" height="2.3" fill="#b4d030"/><rect x="182.80" y="4.60" width="1.7" height="1.3" fill="#777" opacity=".8"/><rect x="187.59" y="12.90" width="12.46" height="8.10" fill="#242424"/><rect x="191.20" y="11.60" width="5.23" height="1.5" fill="#242424"/><rect x="188.39" y="16.30" width="10.86" height="4.10" fill="#0f0f0f"/><rect x="188.79" y="13.80" width="10.06" height="2.27" fill="#3c3c3c"/><rect x="187.59" y="26.00" width="12.46" height="9.05" fill="#242424"/><rect x="191.20" y="34.84" width="5.23" height="1.5" fill="#242424"/><rect x="188.39" y="26.60" width="10.86" height="4.65" fill="#0f0f0f"/><rect x="188.79" y="31.96" width="10.06" height="2.35" fill="#3c3c3c"/><rect x="189.33" y="6.90" width="1.7" height="2.3" fill="#b4d030"/><rect x="189.33" y="4.60" width="1.7" height="1.3" fill="#777" opacity=".8"/><rect x="196.56" y="6.90" width="1.7" height="2.3" fill="#b4d030"/><rect x="196.56" y="4.60" width="1.7" height="1.3" fill="#777" opacity=".8"/><rect x="201.35" y="12.90" width="12.46" height="8.10" fill="#242424"/><rect x="204.96" y="11.60" width="5.23" height="1.5" fill="#242424"/><rect x="202.15" y="16.30" width="10.86" height="4.10" fill="#0f0f0f"/><rect x="202.55" y="13.80" width="10.06" height="2.27" fill="#3c3c3c"/><rect x="201.35" y="26.00" width="12.46" height="9.05" fill="#242424"/><rect x="204.96" y="34.84" width="5.23" height="1.5" fill="#242424"/><rect x="202.15" y="26.60" width="10.86" height="4.65" fill="#0f0f0f"/><rect x="202.55" y="31.96" width="10.06" height="2.35" fill="#3c3c3c"/><rect x="203.09" y="6.90" width="1.7" height="2.3" fill="#b4d030"/><rect x="203.09" y="4.60" width="1.7" height="1.3" fill="#777" opacity=".8"/><rect x="210.32" y="6.90" width="1.7" height="2.3" fill="#b4d030"/><rect x="210.32" y="4.60" width="1.7" height="1.3" fill="#777" opacity=".8"/><rect x="215.11" y="12.90" width="12.46" height="8.10" fill="#242424"/><rect x="218.73" y="11.60" width="5.23" height="1.5" fill="#242424"/><rect x="215.91" y="16.30" width="10.86" height="4.10" fill="#0f0f0f"/><rect x="216.31" y="13.80" width="10.06" height="2.27" fill="#3c3c3c"/><rect x="215.11" y="26.00" width="12.46" height="9.05" fill="#242424"/><rect x="218.73" y="34.84" width="5.23" height="1.5" fill="#242424"/><rect x="215.91" y="26.60" width="10.86" height="4.65" fill="#0f0f0f"/><rect x="216.31" y="31.96" width="10.06" height="2.35" fill="#3c3c3c"/><rect x="216.86" y="6.90" width="1.7" height="2.3" fill="#b4d030"/><rect x="216.86" y="4.60" width="1.7" height="1.3" fill="#777" opacity=".8"/><rect x="224.09" y="6.90" width="1.7" height="2.3" fill="#b4d030"/><rect x="224.09" y="4.60" width="1.7" height="1.3" fill="#777" opacity=".8"/><rect x="228.88" y="12.90" width="12.46" height="8.10" fill="#242424"/><rect x="232.49" y="11.60" width="5.23" height="1.5" fill="#242424"/><rect x="229.68" y="16.30" width="10.86" height="4.10" fill="#0f0f0f"/><rect x="230.07" y="13.80" width="10.06" height="2.27" fill="#3c3c3c"/><rect x="228.88" y="26.00" width="12.46" height="9.05" fill="#242424"/><rect x="232.49" y="34.84" width="5.23" height="1.5" fill="#242424"/><rect x="229.68" y="26.60" width="10.86" height="4.65" fill="#0f0f0f"/><rect x="230.07" y="31.96" width="10.06" height="2.35" fill="#3c3c3c"/><rect x="230.62" y="6.90" width="1.7" height="2.3" fill="#b4d030"/><rect x="230.62" y="4.60" width="1.7" height="1.3" fill="#777" opacity=".8"/><rect x="237.85" y="6.90" width="1.7" height="2.3" fill="#b4d030"/><rect x="237.85" y="4.60" width="1.7" height="1.3" fill="#777" opacity=".8"/><rect x="242.64" y="12.90" width="12.46" height="8.10" fill="#242424"/><rect x="246.25" y="11.60" width="5.23" height="1.5" fill="#242424"/><rect x="243.44" y="16.30" width="10.86" height="4.10" fill="#0f0f0f"/><rect x="243.84" y="13.80" width="10.06" height="2.27" fill="#3c3c3c"/><rect x="242.64" y="26.00" width="12.46" height="9.05" fill="#242424"/><rect x="246.25" y="34.84" width="5.23" height="1.5" fill="#242424"/><rect x="243.44" y="26.60" width="10.86" height="4.65" fill="#0f0f0f"/><rect x="243.84" y="31.96" width="10.06" height="2.35" fill="#3c3c3c"/><rect x="244.38" y="6.90" width="1.7" height="2.3" fill="#b4d030"/><rect x="244.38" y="4.60" width="1.7" height="1.3" fill="#777" opacity=".8"/><rect x="251.61" y="6.90" width="1.7" height="2.3" fill="#b4d030"/><rect x="251.61" y="4.60" width="1.7" height="1.3" fill="#777" opacity=".8"/><rect x="145.90" y="38.50" width="31.81" height="0.9" fill="#9a9a9a" opacity=".5"/><rect x="184.80" y="38.50" width="24.99" height="0.9" fill="#5f8f3a" opacity=".45"/><rect x="259.40" y="10.20" width="117.20" height="27.00" rx="0.8" fill="#f0eee9"/><rect x="261.80" y="12.90" width="12.91" height="8.10" fill="#242424"/><rect x="265.54" y="11.60" width="5.42" height="1.5" fill="#242424"/><rect x="262.60" y="16.30" width="11.31" height="4.10" fill="#0f0f0f"/><rect x="263.00" y="13.80" width="10.51" height="2.27" fill="#3c3c3c"/><rect x="261.80" y="26.00" width="12.91" height="9.05" fill="#242424"/><rect x="265.54" y="34.84" width="5.42" height="1.5" fill="#242424"/><rect x="262.60" y="26.60" width="11.31" height="4.65" fill="#0f0f0f"/><rect x="263.00" y="31.96" width="10.51" height="2.35" fill="#3c3c3c"/><rect x="263.61" y="6.90" width="1.7" height="2.3" fill="#b4d030"/><rect x="263.61" y="4.60" width="1.7" height="1.3" fill="#777" opacity=".8"/><rect x="271.10" y="6.90" width="1.7" height="2.3" fill="#b4d030"/><rect x="271.10" y="4.60" width="1.7" height="1.3" fill="#777" opacity=".8"/><rect x="276.01" y="12.90" width="12.91" height="8.10" fill="#242424"/><rect x="279.76" y="11.60" width="5.42" height="1.5" fill="#242424"/><rect x="276.81" y="16.30" width="11.31" height="4.10" fill="#0f0f0f"/><rect x="277.21" y="13.80" width="10.51" height="2.27" fill="#3c3c3c"/><rect x="276.01" y="26.00" width="12.91" height="9.05" fill="#242424"/><rect x="279.76" y="34.84" width="5.42" height="1.5" fill="#242424"/><rect x="276.81" y="26.60" width="11.31" height="4.65" fill="#0f0f0f"/><rect x="277.21" y="31.96" width="10.51" height="2.35" fill="#3c3c3c"/><rect x="277.82" y="6.90" width="1.7" height="2.3" fill="#b4d030"/><rect x="277.82" y="4.60" width="1.7" height="1.3" fill="#777" opacity=".8"/><rect x="285.31" y="6.90" width="1.7" height="2.3" fill="#b4d030"/><rect x="285.31" y="4.60" width="1.7" height="1.3" fill="#777" opacity=".8"/><rect x="290.22" y="12.90" width="12.91" height="8.10" fill="#242424"/><rect x="293.97" y="11.60" width="5.42" height="1.5" fill="#242424"/><rect x="291.02" y="16.30" width="11.31" height="4.10" fill="#0f0f0f"/><rect x="291.42" y="13.80" width="10.51" height="2.27" fill="#3c3c3c"/><rect x="290.22" y="26.00" width="12.91" height="9.05" fill="#242424"/><rect x="293.97" y="34.84" width="5.42" height="1.5" fill="#242424"/><rect x="291.02" y="26.60" width="11.31" height="4.65" fill="#0f0f0f"/><rect x="291.42" y="31.96" width="10.51" height="2.35" fill="#3c3c3c"/><rect x="292.03" y="6.90" width="1.7" height="2.3" fill="#b4d030"/><rect x="292.03" y="4.60" width="1.7" height="1.3" fill="#777" opacity=".8"/><rect x="299.52" y="6.90" width="1.7" height="2.3" fill="#b4d030"/><rect x="299.52" y="4.60" width="1.7" height="1.3" fill="#777" opacity=".8"/><rect x="304.44" y="12.90" width="12.91" height="8.10" fill="#242424"/><rect x="308.18" y="11.60" width="5.42" height="1.5" fill="#242424"/><rect x="305.24" y="16.30" width="11.31" height="4.10" fill="#0f0f0f"/><rect x="305.64" y="13.80" width="10.51" height="2.27" fill="#3c3c3c"/><rect x="304.44" y="26.00" width="12.91" height="9.05" fill="#242424"/><rect x="308.18" y="34.84" width="5.42" height="1.5" fill="#242424"/><rect x="305.24" y="26.60" width="11.31" height="4.65" fill="#0f0f0f"/><rect x="305.64" y="31.96" width="10.51" height="2.35" fill="#3c3c3c"/><rect x="306.25" y="6.90" width="1.7" height="2.3" fill="#b4d030"/><rect x="306.25" y="4.60" width="1.7" height="1.3" fill="#777" opacity=".8"/><rect x="313.73" y="6.90" width="1.7" height="2.3" fill="#b4d030"/><rect x="313.73" y="4.60" width="1.7" height="1.3" fill="#777" opacity=".8"/><rect x="318.65" y="12.90" width="12.91" height="8.10" fill="#242424"/><rect x="322.39" y="11.60" width="5.42" height="1.5" fill="#242424"/><rect x="319.45" y="16.30" width="11.31" height="4.10" fill="#0f0f0f"/><rect x="319.85" y="13.80" width="10.51" height="2.27" fill="#3c3c3c"/><rect x="318.65" y="26.00" width="12.91" height="9.05" fill="#242424"/><rect x="322.39" y="34.84" width="5.42" height="1.5" fill="#242424"/><rect x="319.45" y="26.60" width="11.31" height="4.65" fill="#0f0f0f"/><rect x="319.85" y="31.96" width="10.51" height="2.35" fill="#3c3c3c"/><rect x="320.46" y="6.90" width="1.7" height="2.3" fill="#b4d030"/><rect x="320.46" y="4.60" width="1.7" height="1.3" fill="#777" opacity=".8"/><rect x="327.95" y="6.90" width="1.7" height="2.3" fill="#b4d030"/><rect x="327.95" y="4.60" width="1.7" height="1.3" fill="#777" opacity=".8"/><rect x="332.86" y="12.90" width="12.91" height="8.10" fill="#242424"/><rect x="336.61" y="11.60" width="5.42" height="1.5" fill="#242424"/><rect x="333.66" y="16.30" width="11.31" height="4.10" fill="#0f0f0f"/><rect x="334.06" y="13.80" width="10.51" height="2.27" fill="#3c3c3c"/><rect x="332.86" y="26.00" width="12.91" height="9.05" fill="#242424"/><rect x="336.61" y="34.84" width="5.42" height="1.5" fill="#242424"/><rect x="333.66" y="26.60" width="11.31" height="4.65" fill="#0f0f0f"/><rect x="334.06" y="31.96" width="10.51" height="2.35" fill="#3c3c3c"/><rect x="334.67" y="6.90" width="1.7" height="2.3" fill="#b4d030"/><rect x="334.67" y="4.60" width="1.7" height="1.3" fill="#777" opacity=".8"/><rect x="342.16" y="6.90" width="1.7" height="2.3" fill="#b4d030"/><rect x="342.16" y="4.60" width="1.7" height="1.3" fill="#777" opacity=".8"/><rect x="347.07" y="12.90" width="12.91" height="8.10" fill="#242424"/><rect x="350.82" y="11.60" width="5.42" height="1.5" fill="#242424"/><rect x="347.88" y="16.30" width="11.31" height="4.10" fill="#0f0f0f"/><rect x="348.27" y="13.80" width="10.51" height="2.27" fill="#3c3c3c"/><rect x="347.07" y="26.00" width="12.91" height="9.05" fill="#242424"/><rect x="350.82" y="34.84" width="5.42" height="1.5" fill="#242424"/><rect x="347.88" y="26.60" width="11.31" height="4.65" fill="#0f0f0f"/><rect x="348.27" y="31.96" width="10.51" height="2.35" fill="#3c3c3c"/><rect x="348.88" y="6.90" width="1.7" height="2.3" fill="#b4d030"/><rect x="348.88" y="4.60" width="1.7" height="1.3" fill="#777" opacity=".8"/><rect x="356.37" y="6.90" width="1.7" height="2.3" fill="#b4d030"/><rect x="356.37" y="4.60" width="1.7" height="1.3" fill="#777" opacity=".8"/><rect x="361.29" y="12.90" width="12.91" height="8.10" fill="#242424"/><rect x="365.03" y="11.60" width="5.42" height="1.5" fill="#242424"/><rect x="362.09" y="16.30" width="11.31" height="4.10" fill="#0f0f0f"/><rect x="362.49" y="13.80" width="10.51" height="2.27" fill="#3c3c3c"/><rect x="361.29" y="26.00" width="12.91" height="9.05" fill="#242424"/><rect x="365.03" y="34.84" width="5.42" height="1.5" fill="#242424"/><rect x="362.09" y="26.60" width="11.31" height="4.65" fill="#0f0f0f"/><rect x="362.49" y="31.96" width="10.51" height="2.35" fill="#3c3c3c"/><rect x="363.10" y="6.90" width="1.7" height="2.3" fill="#b4d030"/><rect x="363.10" y="4.60" width="1.7" height="1.3" fill="#777" opacity=".8"/><rect x="370.58" y="6.90" width="1.7" height="2.3" fill="#b4d030"/><rect x="370.58" y="4.60" width="1.7" height="1.3" fill="#777" opacity=".8"/><rect x="261.40" y="38.50" width="32.82" height="0.9" fill="#9a9a9a" opacity=".5"/><rect x="301.59" y="38.50" width="25.78" height="0.9" fill="#5f8f3a" opacity=".45"/><rect x="380.20" y="10.60" width="19.20" height="26.60" rx="0.8" fill="#f0eee9"/><rect x="382.80" y="13.26" width="14.00" height="8.78" fill="#242424"/><rect x="386.86" y="11.96" width="5.88" height="1.5" fill="#242424"/><rect x="383.60" y="16.95" width="12.40" height="4.49" fill="#0f0f0f"/><rect x="384.00" y="14.16" width="11.60" height="2.46" fill="#3c3c3c"/><rect x="382.80" y="26.56" width="14.00" height="8.78" fill="#242424"/><rect x="386.86" y="35.14" width="5.88" height="1.5" fill="#242424"/><rect x="383.60" y="27.16" width="12.40" height="4.49" fill="#0f0f0f"/><rect x="384.00" y="32.35" width="11.60" height="2.28" fill="#3c3c3c"/><rect x="387.20" y="31.88" width="2" height="3" fill="#c8a24a"/><rect x="402.60" y="10.90" width="16.90" height="26.60" rx="0.6" fill="#958f82"/><rect x="403.50" y="11.90" width="15.10" height="9.98" fill="#26211b"/><rect x="403.50" y="26.29" width="15.10" height="9.84" fill="#26211b"/><rect x="403.50" y="21.91" width="15.10" height="4.39" fill="#efeee9"/><rect x="405.10" y="13.20" width="11.90" height="2.66" fill="#4a453d"/><rect x="405.10" y="27.09" width="11.90" height="2.66" fill="#4a453d"/><circle cx="406.20" cy="23.90" r="0.8" fill="#333"/><circle cx="415.90" cy="23.90" r="0.8" fill="#333"/><rect x="383.20" y="5.6" width="1.5" height="1.9" fill="#b4d030"/><rect x="391.20" y="5.6" width="1.5" height="1.9" fill="#b4d030"/><rect x="380.70" y="6" width="2" height="1.3" fill="#aaa" opacity=".75"/><rect x="386.70" y="6" width="2" height="1.3" fill="#aaa" opacity=".75"/><rect x="393.70" y="6" width="2" height="1.3" fill="#aaa" opacity=".75"/><rect x="405.60" y="6" width="2" height="1.3" fill="#aaa" opacity=".75"/><rect x="413.60" y="6" width="2" height="1.3" fill="#aaa" opacity=".75"/><rect x="380.20" y="38.80" width="18" height="1.0" fill="#aaa" opacity=".7"/><rect x="401.20" y="38.70" width="1.6" height="1.3" fill="#5fb83a" opacity=".9"/><rect x="404.70" y="38.70" width="1.6" height="1.3" fill="#5fb83a" opacity=".9"/><rect x="408.20" y="38.60" width="1.6" height="1.4" fill="#e8a020"/><rect x="421.00" y="25.90" width="10.00" height="11.40" fill="#3a3a3a"/><text x="426.00" y="35.70" font-size="9" class="fm" fill="#9c9c9c" text-anchor="middle" textLength="7.60" lengthAdjust="spacingAndGlyphs">18</text><rect x="421.00" y="22.00" width="9.50" height="1.7" fill="#d0d0d0" opacity=".8"/></svg></div>
<svg width="900" height="580" viewBox="0 0 900 580"><defs><linearGradient id="lit4" x1="808" y1="516" x2="868" y2="472" gradientUnits="userSpaceOnUse"><stop offset="0" stop-color="rgb(92,92,92)"/><stop offset="0.35" stop-color="rgb(126,126,126)"/><stop offset="1" stop-color="rgb(128,128,128)"/></linearGradient></defs><polygon points="808.5,501.4 867.6,449.7 867.6,471.8 807.9,516.2" fill="url(#lit4)"/><ellipse cx="844.2" cy="484.0" rx="1.6" ry="1.0" fill="#151515"/><ellipse cx="820.8" cy="501.3" rx="1.6" ry="1.0" fill="#151515"/><path d="M807.7,516.5 L867.6,472.2" stroke="#d8d8d8" stroke-width="1.6" stroke-linecap="round" fill="none"/><path d="M807.9,517.2 L807.5,557.3" stroke="#6a6a6a" stroke-width="0.9" opacity=".8" fill="none"/></svg>
<div class="face" style="width:440px;height:260px;transform:matrix3d(0.65130065,0.11408669,0,-3.5632855e-05,-0.5600288,-0.015029847,0,-0.00041136638,0,0,1,0,569,358,0,1)"><svg width="440" height="260" viewBox="0 0 440 260"><defs><linearGradient id="tg3" x1="0" y1="0" x2="1" y2="0"><stop offset="0" stop-color="#2e2e2e"/><stop offset="0.3" stop-color="#3c3c3c"/><stop offset="0.5" stop-color="#464646"/><stop offset="0.8" stop-color="#4e4e4e"/><stop offset="1" stop-color="#565656"/></linearGradient>
<linearGradient id="tf3" x1="0" y1="0" x2="0" y2="1"><stop offset="0" stop-color="#fff" stop-opacity=".06"/><stop offset="0.7" stop-color="#fff" stop-opacity="0"/></linearGradient></defs><rect width="440" height="260" fill="url(#tg3)"/><rect width="440" height="260" fill="url(#tf3)"/><rect x="0" y="251" width="440" height="7" fill="#000" opacity=".32"/><ellipse cx="432" cy="84" rx="2.6" ry="3.4" fill="#111"/><ellipse cx="432" cy="185" rx="2.6" ry="3.4" fill="#111"/><rect x="375.0" y="240.0" width="3.0" height="6.5" rx="1.2" fill="#0c0c0c"/><rect x="379.4" y="240.0" width="3.0" height="6.5" rx="1.2" fill="#0c0c0c"/><rect x="383.8" y="240.0" width="3.0" height="6.5" rx="1.2" fill="#0c0c0c"/><rect x="388.2" y="240.0" width="3.0" height="6.5" rx="1.2" fill="#0c0c0c"/><rect x="392.6" y="240.0" width="3.0" height="6.5" rx="1.2" fill="#0c0c0c"/><rect x="397.0" y="240.0" width="3.0" height="6.5" rx="1.2" fill="#0c0c0c"/><rect x="401.4" y="240.0" width="3.0" height="6.5" rx="1.2" fill="#0c0c0c"/><rect x="405.8" y="240.0" width="3.0" height="6.5" rx="1.2" fill="#0c0c0c"/><rect x="410.2" y="240.0" width="3.0" height="6.5" rx="1.2" fill="#0c0c0c"/><rect x="377.2" y="249.0" width="3.0" height="6.5" rx="1.2" fill="#0c0c0c"/><rect x="381.6" y="249.0" width="3.0" height="6.5" rx="1.2" fill="#0c0c0c"/><rect x="386.0" y="249.0" width="3.0" height="6.5" rx="1.2" fill="#0c0c0c"/><rect x="390.4" y="249.0" width="3.0" height="6.5" rx="1.2" fill="#0c0c0c"/><rect x="394.8" y="249.0" width="3.0" height="6.5" rx="1.2" fill="#0c0c0c"/><rect x="399.2" y="249.0" width="3.0" height="6.5" rx="1.2" fill="#0c0c0c"/><rect x="403.6" y="249.0" width="3.0" height="6.5" rx="1.2" fill="#0c0c0c"/><rect x="408.0" y="249.0" width="3.0" height="6.5" rx="1.2" fill="#0c0c0c"/><rect x="412.4" y="249.0" width="3.0" height="6.5" rx="1.2" fill="#0c0c0c"/></svg></div>
<div class="face" style="width:260px;height:44px;transform:matrix3d(0.86627674,0.12589636,0,0.00073114072,0.35847906,1.1549081,0,0.00046306512,0,0,1,0,809.2,460.8,0,1)"><svg width="260" height="44" viewBox="0 0 260 44"><defs><linearGradient id="sg3" x1="0" y1="0" x2="1" y2="0"><stop offset="0" stop-color="#272727"/><stop offset="1" stop-color="#1f1f1f"/></linearGradient>
<pattern id="vp3" x="0" y="0" width="14" height="3.4" patternUnits="userSpaceOnUse"><rect x="0.8" y="0.7" width="12.6" height="1.9" rx="0.9" fill="#0a0a0a"/></pattern></defs><rect width="260" height="44" fill="url(#sg3)"/><rect x="63" y="7.2" width="189" height="27.2" fill="url(#vp3)"/><circle cx="10.5" cy="12.2" r="1.6" fill="#8c8c8c"/><circle cx="40" cy="12.2" r="1.6" fill="#8c8c8c"/><circle cx="9.5" cy="36" r="1.6" fill="#8c8c8c"/><circle cx="37" cy="36" r="1.6" fill="#8c8c8c"/></svg></div>
<div class="face" style="width:440px;height:44px;transform:matrix3d(0.55264317,0.027150801,0,-0.0002582152,0.069672422,0.86984526,0,0.00010361658,0,0,1,0,474.1,396.5,0,1)"><svg width="440" height="44" viewBox="0 0 440 44"><defs><linearGradient id="bev3" x1="0" y1="0" x2="0" y2="1"><stop offset="0" stop-color="#303030"/><stop offset="1" stop-color="#141414"/></linearGradient></defs><rect width="440" height="44" fill="#0a0a0a"/><rect width="440" height="1.6" fill="url(#bev3)"/><text x="3.0" y="7.6" class="fs" font-weight="700" font-size="7.2" fill="#fff" textLength="25.6" lengthAdjust="spacingAndGlyphs">D-Link</text><rect x="6" y="8.6" width="22.5" height="1.7" fill="#efefef" opacity=".85"/><rect x="8.2" y="23.8" width="1.8" height="1.8" fill="#b4d030"/><rect x="2.5" y="24.2" width="4.6" height="1.0" fill="#aaa" opacity=".6"/><rect x="8.2" y="28.2" width="1.8" height="1.8" fill="#b4d030"/><rect x="2.5" y="28.599999999999998" width="4.6" height="1.0" fill="#aaa" opacity=".6"/><rect x="8.2" y="32.6" width="1.8" height="1.8" fill="#b4d030"/><rect x="2.5" y="33.0" width="4.6" height="1.0" fill="#aaa" opacity=".6"/><rect x="12.5" y="24.3" width="16.7" height="11.6" rx="0.6" fill="#f0eee9"/><rect x="14.60" y="25.90" width="12.50" height="7.30" fill="#242424"/><rect x="18.23" y="33.00" width="5.25" height="1.5" fill="#242424"/><rect x="15.40" y="26.50" width="10.90" height="3.63" fill="#0f0f0f"/><rect x="15.80" y="30.72" width="10.10" height="1.90" fill="#3c3c3c"/><rect x="15" y="20.8" width="10" height="1.0" fill="#aaa" opacity=".7"/><rect x="12" y="38.2" width="12" height="1.0" fill="#aaa" opacity=".6"/><rect x="30.50" y="10.20" width="111.30" height="27.00" rx="0.8" fill="#f0eee9"/><rect x="32.90" y="12.90" width="12.18" height="8.10" fill="#242424"/><rect x="36.43" y="11.60" width="5.11" height="1.5" fill="#242424"/><rect x="33.70" y="16.30" width="10.58" height="4.10" fill="#0f0f0f"/><rect x="34.10" y="13.80" width="9.78" height="2.27" fill="#3c3c3c"/><rect x="32.90" y="26.00" width="12.18" height="9.05" fill="#242424"/><rect x="36.43" y="34.84" width="5.11" height="1.5" fill="#242424"/><rect x="33.70" y="26.60" width="10.58" height="4.65" fill="#0f0f0f"/><rect x="34.10" y="31.96" width="9.78" height="2.35" fill="#3c3c3c"/><rect x="34.60" y="6.90" width="1.7" height="2.3" fill="#b4d030"/><rect x="34.60" y="4.60" width="1.7" height="1.3" fill="#777" opacity=".8"/><rect x="41.67" y="6.90" width="1.7" height="2.3" fill="#b4d030"/><rect x="41.67" y="4.60" width="1.7" height="1.3" fill="#777" opacity=".8"/><rect x="46.38" y="12.90" width="12.18" height="8.10" fill="#242424"/><rect x="49.91" y="11.60" width="5.11" height="1.5" fill="#242424"/><rect x="47.17" y="16.30" width="10.58" height="4.10" fill="#0f0f0f"/><rect x="47.58" y="13.80" width="9.78" height="2.27" fill="#3c3c3c"/><rect x="46.38" y="26.00" width="12.18" height="9.05" fill="#242424"/><rect x="49.91" y="34.84" width="5.11" height="1.5" fill="#242424"/><rect x="47.17" y="26.60" width="10.58" height="4.65" fill="#0f0f0f"/><rect x="47.58" y="31.96" width="9.78" height="2.35" fill="#3c3c3c"/><rect x="48.08" y="6.90" width="1.7" height="2.3" fill="#b4d030"/><rect x="48.08" y="4.60" width="1.7" height="1.3" fill="#777" opacity=".8"/><rect x="55.14" y="6.90" width="1.7" height="2.3" fill="#b4d030"/><rect x="55.14" y="4.60" width="1.7" height="1.3" fill="#777" opacity=".8"/><rect x="59.85" y="12.90" width="12.18" height="8.10" fill="#242424"/><rect x="63.38" y="11.60" width="5.11" height="1.5" fill="#242424"/><rect x="60.65" y="16.30" width="10.58" height="4.10" fill="#0f0f0f"/><rect x="61.05" y="13.80" width="9.78" height="2.27" fill="#3c3c3c"/><rect x="59.85" y="26.00" width="12.18" height="9.05" fill="#242424"/><rect x="63.38" y="34.84" width="5.11" height="1.5" fill="#242424"/><rect x="60.65" y="26.60" width="10.58" height="4.65" fill="#0f0f0f"/><rect x="61.05" y="31.96" width="9.78" height="2.35" fill="#3c3c3c"/><rect x="61.55" y="6.90" width="1.7" height="2.3" fill="#b4d030"/><rect x="61.55" y="4.60" width="1.7" height="1.3" fill="#777" opacity=".8"/><rect x="68.62" y="6.90" width="1.7" height="2.3" fill="#b4d030"/><rect x="68.62" y="4.60" width="1.7" height="1.3" fill="#777" opacity=".8"/><rect x="73.33" y="12.90" width="12.18" height="8.10" fill="#242424"/><rect x="76.86" y="11.60" width="5.11" height="1.5" fill="#242424"/><rect x="74.12" y="16.30" width="10.58" height="4.10" fill="#0f0f0f"/><rect x="74.53" y="13.80" width="9.78" height="2.27" fill="#3c3c3c"/><rect x="73.33" y="26.00" width="12.18" height="9.05" fill="#242424"/><rect x="76.86" y="34.84" width="5.11" height="1.5" fill="#242424"/><rect x="74.12" y="26.60" width="10.58" height="4.65" fill="#0f0f0f"/><rect x="74.53" y="31.96" width="9.78" height="2.35" fill="#3c3c3c"/><rect x="75.03" y="6.90" width="1.7" height="2.3" fill="#b4d030"/><rect x="75.03" y="4.60" width="1.7" height="1.3" fill="#777" opacity=".8"/><rect x="82.09" y="6.90" width="1.7" height="2.3" fill="#b4d030"/><rect x="82.09" y="4.60" width="1.7" height="1.3" fill="#777" opacity=".8"/><rect x="86.80" y="12.90" width="12.18" height="8.10" fill="#242424"/><rect x="90.33" y="11.60" width="5.11" height="1.5" fill="#242424"/><rect x="87.60" y="16.30" width="10.58" height="4.10" fill="#0f0f0f"/><rect x="88.00" y="13.80" width="9.78" height="2.27" fill="#3c3c3c"/><rect x="86.80" y="26.00" width="12.18" height="9.05" fill="#242424"/><rect x="90.33" y="34.84" width="5.11" height="1.5" fill="#242424"/><rect x="87.60" y="26.60" width="10.58" height="4.65" fill="#0f0f0f"/><rect x="88.00" y="31.96" width="9.78" height="2.35" fill="#3c3c3c"/><rect x="88.50" y="6.90" width="1.7" height="2.3" fill="#b4d030"/><rect x="88.50" y="4.60" width="1.7" height="1.3" fill="#777" opacity=".8"/><rect x="95.57" y="6.90" width="1.7" height="2.3" fill="#b4d030"/><rect x="95.57" y="4.60" width="1.7" height="1.3" fill="#777" opacity=".8"/><rect x="100.28" y="12.90" width="12.18" height="8.10" fill="#242424"/><rect x="103.81" y="11.60" width="5.11" height="1.5" fill="#242424"/><rect x="101.08" y="16.30" width="10.58" height="4.10" fill="#0f0f0f"/><rect x="101.48" y="13.80" width="9.78" height="2.27" fill="#3c3c3c"/><rect x="100.28" y="26.00" width="12.18" height="9.05" fill="#242424"/><rect x="103.81" y="34.84" width="5.11" height="1.5" fill="#242424"/><rect x="101.08" y="26.60" width="10.58" height="4.65" fill="#0f0f0f"/><rect x="101.48" y="31.96" width="9.78" height="2.35" fill="#3c3c3c"/><rect x="101.98" y="6.90" width="1.7" height="2.3" fill="#b4d030"/><rect x="101.98" y="4.60" width="1.7" height="1.3" fill="#777" opacity=".8"/><rect x="109.04" y="6.90" width="1.7" height="2.3" fill="#b4d030"/><rect x="109.04" y="4.60" width="1.7" height="1.3" fill="#777" opacity=".8"/><rect x="113.75" y="12.90" width="12.18" height="8.10" fill="#242424"/><rect x="117.28" y="11.60" width="5.11" height="1.5" fill="#242424"/><rect x="114.55" y="16.30" width="10.58" height="4.10" fill="#0f0f0f"/><rect x="114.95" y="13.80" width="9.78" height="2.27" fill="#3c3c3c"/><rect x="113.75" y="26.00" width="12.18" height="9.05" fill="#242424"/><rect x="117.28" y="34.84" width="5.11" height="1.5" fill="#242424"/><rect x="114.55" y="26.60" width="10.58" height="4.65" fill="#0f0f0f"/><rect x="114.95" y="31.96" width="9.78" height="2.35" fill="#3c3c3c"/><rect x="115.45" y="6.90" width="1.7" height="2.3" fill="#b4d030"/><rect x="115.45" y="4.60" width="1.7" height="1.3" fill="#777" opacity=".8"/><rect x="122.52" y="6.90" width="1.7" height="2.3" fill="#b4d030"/><rect x="122.52" y="4.60" width="1.7" height="1.3" fill="#777" opacity=".8"/><rect x="127.23" y="12.90" width="12.18" height="8.10" fill="#242424"/><rect x="130.76" y="11.60" width="5.11" height="1.5" fill="#242424"/><rect x="128.03" y="16.30" width="10.58" height="4.10" fill="#0f0f0f"/><rect x="128.43" y="13.80" width="9.78" height="2.27" fill="#3c3c3c"/><rect x="127.23" y="26.00" width="12.18" height="9.05" fill="#242424"/><rect x="130.76" y="34.84" width="5.11" height="1.5" fill="#242424"/><rect x="128.03" y="26.60" width="10.58" height="4.65" fill="#0f0f0f"/><rect x="128.43" y="31.96" width="9.78" height="2.35" fill="#3c3c3c"/><rect x="128.93" y="6.90" width="1.7" height="2.3" fill="#b4d030"/><rect x="128.93" y="4.60" width="1.7" height="1.3" fill="#777" opacity=".8"/><rect x="135.99" y="6.90" width="1.7" height="2.3" fill="#b4d030"/><rect x="135.99" y="4.60" width="1.7" height="1.3" fill="#777" opacity=".8"/><rect x="32.50" y="38.50" width="31.16" height="0.9" fill="#9a9a9a" opacity=".5"/><rect x="70.57" y="38.50" width="24.49" height="0.9" fill="#5f8f3a" opacity=".45"/><rect x="143.90" y="10.20" width="113.60" height="27.00" rx="0.8" fill="#f0eee9"/><rect x="146.30" y="12.90" width="12.46" height="8.10" fill="#242424"/><rect x="149.91" y="11.60" width="5.23" height="1.5" fill="#242424"/><rect x="147.10" y="16.30" width="10.86" height="4.10" fill="#0f0f0f"/><rect x="147.50" y="13.80" width="10.06" height="2.27" fill="#3c3c3c"/><rect x="146.30" y="26.00" width="12.46" height="9.05" fill="#242424"/><rect x="149.91" y="34.84" width="5.23" height="1.5" fill="#242424"/><rect x="147.10" y="26.60" width="10.86" height="4.65" fill="#0f0f0f"/><rect x="147.50" y="31.96" width="10.06" height="2.35" fill="#3c3c3c"/><rect x="148.04" y="6.90" width="1.7" height="2.3" fill="#b4d030"/><rect x="148.04" y="4.60" width="1.7" height="1.3" fill="#777" opacity=".8"/><rect x="155.27" y="6.90" width="1.7" height="2.3" fill="#b4d030"/><rect x="155.27" y="4.60" width="1.7" height="1.3" fill="#777" opacity=".8"/><rect x="160.06" y="12.90" width="12.46" height="8.10" fill="#242424"/><rect x="163.68" y="11.60" width="5.23" height="1.5" fill="#242424"/><rect x="160.86" y="16.30" width="10.86" height="4.10" fill="#0f0f0f"/><rect x="161.26" y="13.80" width="10.06" height="2.27" fill="#3c3c3c"/><rect x="160.06" y="26.00" width="12.46" height="9.05" fill="#242424"/><rect x="163.68" y="34.84" width="5.23" height="1.5" fill="#242424"/><rect x="160.86" y="26.60" width="10.86" height="4.65" fill="#0f0f0f"/><rect x="161.26" y="31.96" width="10.06" height="2.35" fill="#3c3c3c"/><rect x="161.81" y="6.90" width="1.7" height="2.3" fill="#b4d030"/><rect x="161.81" y="4.60" width="1.7" height="1.3" fill="#777" opacity=".8"/><rect x="169.04" y="6.90" width="1.7" height="2.3" fill="#b4d030"/><rect x="169.04" y="4.60" width="1.7" height="1.3" fill="#777" opacity=".8"/><rect x="173.83" y="12.90" width="12.46" height="8.10" fill="#242424"/><rect x="177.44" y="11.60" width="5.23" height="1.5" fill="#242424"/><rect x="174.63" y="16.30" width="10.86" height="4.10" fill="#0f0f0f"/><rect x="175.03" y="13.80" width="10.06" height="2.27" fill="#3c3c3c"/><rect x="173.83" y="26.00" width="12.46" height="9.05" fill="#242424"/><rect x="177.44" y="34.84" width="5.23" height="1.5" fill="#242424"/><rect x="174.63" y="26.60" width="10.86" height="4.65" fill="#0f0f0f"/><rect x="175.03" y="31.96" width="10.06" height="2.35" fill="#3c3c3c"/><rect x="175.57" y="6.90" width="1.7" height="2.3" fill="#b4d030"/><rect x="175.57" y="4.60" width="1.7" height="1.3" fill="#777" opacity=".8"/><rect x="182.80" y="6.90" width="1.7" height="2.3" fill="#b4d030"/><rect x="182.80" y="4.60" width="1.7" height="1.3" fill="#777" opacity=".8"/><rect x="187.59" y="12.90" width="12.46" height="8.10" fill="#242424"/><rect x="191.20" y="11.60" width="5.23" height="1.5" fill="#242424"/><rect x="188.39" y="16.30" width="10.86" height="4.10" fill="#0f0f0f"/><rect x="188.79" y="13.80" width="10.06" height="2.27" fill="#3c3c3c"/><rect x="187.59" y="26.00" width="12.46" height="9.05" fill="#242424"/><rect x="191.20" y="34.84" width="5.23" height="1.5" fill="#242424"/><rect x="188.39" y="26.60" width="10.86" height="4.65" fill="#0f0f0f"/><rect x="188.79" y="31.96" width="10.06" height="2.35" fill="#3c3c3c"/><rect x="189.33" y="6.90" width="1.7" height="2.3" fill="#b4d030"/><rect x="189.33" y="4.60" width="1.7" height="1.3" fill="#777" opacity=".8"/><rect x="196.56" y="6.90" width="1.7" height="2.3" fill="#b4d030"/><rect x="196.56" y="4.60" width="1.7" height="1.3" fill="#777" opacity=".8"/><rect x="201.35" y="12.90" width="12.46" height="8.10" fill="#242424"/><rect x="204.96" y="11.60" width="5.23" height="1.5" fill="#242424"/><rect x="202.15" y="16.30" width="10.86" height="4.10" fill="#0f0f0f"/><rect x="202.55" y="13.80" width="10.06" height="2.27" fill="#3c3c3c"/><rect x="201.35" y="26.00" width="12.46" height="9.05" fill="#242424"/><rect x="204.96" y="34.84" width="5.23" height="1.5" fill="#242424"/><rect x="202.15" y="26.60" width="10.86" height="4.65" fill="#0f0f0f"/><rect x="202.55" y="31.96" width="10.06" height="2.35" fill="#3c3c3c"/><rect x="203.09" y="6.90" width="1.7" height="2.3" fill="#b4d030"/><rect x="203.09" y="4.60" width="1.7" height="1.3" fill="#777" opacity=".8"/><rect x="210.32" y="6.90" width="1.7" height="2.3" fill="#b4d030"/><rect x="210.32" y="4.60" width="1.7" height="1.3" fill="#777" opacity=".8"/><rect x="215.11" y="12.90" width="12.46" height="8.10" fill="#242424"/><rect x="218.73" y="11.60" width="5.23" height="1.5" fill="#242424"/><rect x="215.91" y="16.30" width="10.86" height="4.10" fill="#0f0f0f"/><rect x="216.31" y="13.80" width="10.06" height="2.27" fill="#3c3c3c"/><rect x="215.11" y="26.00" width="12.46" height="9.05" fill="#242424"/><rect x="218.73" y="34.84" width="5.23" height="1.5" fill="#242424"/><rect x="215.91" y="26.60" width="10.86" height="4.65" fill="#0f0f0f"/><rect x="216.31" y="31.96" width="10.06" height="2.35" fill="#3c3c3c"/><rect x="216.86" y="6.90" width="1.7" height="2.3" fill="#b4d030"/><rect x="216.86" y="4.60" width="1.7" height="1.3" fill="#777" opacity=".8"/><rect x="224.09" y="6.90" width="1.7" height="2.3" fill="#b4d030"/><rect x="224.09" y="4.60" width="1.7" height="1.3" fill="#777" opacity=".8"/><rect x="228.88" y="12.90" width="12.46" height="8.10" fill="#242424"/><rect x="232.49" y="11.60" width="5.23" height="1.5" fill="#242424"/><rect x="229.68" y="16.30" width="10.86" height="4.10" fill="#0f0f0f"/><rect x="230.07" y="13.80" width="10.06" height="2.27" fill="#3c3c3c"/><rect x="228.88" y="26.00" width="12.46" height="9.05" fill="#242424"/><rect x="232.49" y="34.84" width="5.23" height="1.5" fill="#242424"/><rect x="229.68" y="26.60" width="10.86" height="4.65" fill="#0f0f0f"/><rect x="230.07" y="31.96" width="10.06" height="2.35" fill="#3c3c3c"/><rect x="230.62" y="6.90" width="1.7" height="2.3" fill="#b4d030"/><rect x="230.62" y="4.60" width="1.7" height="1.3" fill="#777" opacity=".8"/><rect x="237.85" y="6.90" width="1.7" height="2.3" fill="#b4d030"/><rect x="237.85" y="4.60" width="1.7" height="1.3" fill="#777" opacity=".8"/><rect x="242.64" y="12.90" width="12.46" height="8.10" fill="#242424"/><rect x="246.25" y="11.60" width="5.23" height="1.5" fill="#242424"/><rect x="243.44" y="16.30" width="10.86" height="4.10" fill="#0f0f0f"/><rect x="243.84" y="13.80" width="10.06" height="2.27" fill="#3c3c3c"/><rect x="242.64" y="26.00" width="12.46" height="9.05" fill="#242424"/><rect x="246.25" y="34.84" width="5.23" height="1.5" fill="#242424"/><rect x="243.44" y="26.60" width="10.86" height="4.65" fill="#0f0f0f"/><rect x="243.84" y="31.96" width="10.06" height="2.35" fill="#3c3c3c"/><rect x="244.38" y="6.90" width="1.7" height="2.3" fill="#b4d030"/><rect x="244.38" y="4.60" width="1.7" height="1.3" fill="#777" opacity=".8"/><rect x="251.61" y="6.90" width="1.7" height="2.3" fill="#b4d030"/><rect x="251.61" y="4.60" width="1.7" height="1.3" fill="#777" opacity=".8"/><rect x="145.90" y="38.50" width="31.81" height="0.9" fill="#9a9a9a" opacity=".5"/><rect x="184.80" y="38.50" width="24.99" height="0.9" fill="#5f8f3a" opacity=".45"/><rect x="259.40" y="10.20" width="117.20" height="27.00" rx="0.8" fill="#f0eee9"/><rect x="261.80" y="12.90" width="12.91" height="8.10" fill="#242424"/><rect x="265.54" y="11.60" width="5.42" height="1.5" fill="#242424"/><rect x="262.60" y="16.30" width="11.31" height="4.10" fill="#0f0f0f"/><rect x="263.00" y="13.80" width="10.51" height="2.27" fill="#3c3c3c"/><rect x="261.80" y="26.00" width="12.91" height="9.05" fill="#242424"/><rect x="265.54" y="34.84" width="5.42" height="1.5" fill="#242424"/><rect x="262.60" y="26.60" width="11.31" height="4.65" fill="#0f0f0f"/><rect x="263.00" y="31.96" width="10.51" height="2.35" fill="#3c3c3c"/><rect x="263.61" y="6.90" width="1.7" height="2.3" fill="#b4d030"/><rect x="263.61" y="4.60" width="1.7" height="1.3" fill="#777" opacity=".8"/><rect x="271.10" y="6.90" width="1.7" height="2.3" fill="#b4d030"/><rect x="271.10" y="4.60" width="1.7" height="1.3" fill="#777" opacity=".8"/><rect x="276.01" y="12.90" width="12.91" height="8.10" fill="#242424"/><rect x="279.76" y="11.60" width="5.42" height="1.5" fill="#242424"/><rect x="276.81" y="16.30" width="11.31" height="4.10" fill="#0f0f0f"/><rect x="277.21" y="13.80" width="10.51" height="2.27" fill="#3c3c3c"/><rect x="276.01" y="26.00" width="12.91" height="9.05" fill="#242424"/><rect x="279.76" y="34.84" width="5.42" height="1.5" fill="#242424"/><rect x="276.81" y="26.60" width="11.31" height="4.65" fill="#0f0f0f"/><rect x="277.21" y="31.96" width="10.51" height="2.35" fill="#3c3c3c"/><rect x="277.82" y="6.90" width="1.7" height="2.3" fill="#b4d030"/><rect x="277.82" y="4.60" width="1.7" height="1.3" fill="#777" opacity=".8"/><rect x="285.31" y="6.90" width="1.7" height="2.3" fill="#b4d030"/><rect x="285.31" y="4.60" width="1.7" height="1.3" fill="#777" opacity=".8"/><rect x="290.22" y="12.90" width="12.91" height="8.10" fill="#242424"/><rect x="293.97" y="11.60" width="5.42" height="1.5" fill="#242424"/><rect x="291.02" y="16.30" width="11.31" height="4.10" fill="#0f0f0f"/><rect x="291.42" y="13.80" width="10.51" height="2.27" fill="#3c3c3c"/><rect x="290.22" y="26.00" width="12.91" height="9.05" fill="#242424"/><rect x="293.97" y="34.84" width="5.42" height="1.5" fill="#242424"/><rect x="291.02" y="26.60" width="11.31" height="4.65" fill="#0f0f0f"/><rect x="291.42" y="31.96" width="10.51" height="2.35" fill="#3c3c3c"/><rect x="292.03" y="6.90" width="1.7" height="2.3" fill="#b4d030"/><rect x="292.03" y="4.60" width="1.7" height="1.3" fill="#777" opacity=".8"/><rect x="299.52" y="6.90" width="1.7" height="2.3" fill="#b4d030"/><rect x="299.52" y="4.60" width="1.7" height="1.3" fill="#777" opacity=".8"/><rect x="304.44" y="12.90" width="12.91" height="8.10" fill="#242424"/><rect x="308.18" y="11.60" width="5.42" height="1.5" fill="#242424"/><rect x="305.24" y="16.30" width="11.31" height="4.10" fill="#0f0f0f"/><rect x="305.64" y="13.80" width="10.51" height="2.27" fill="#3c3c3c"/><rect x="304.44" y="26.00" width="12.91" height="9.05" fill="#242424"/><rect x="308.18" y="34.84" width="5.42" height="1.5" fill="#242424"/><rect x="305.24" y="26.60" width="11.31" height="4.65" fill="#0f0f0f"/><rect x="305.64" y="31.96" width="10.51" height="2.35" fill="#3c3c3c"/><rect x="306.25" y="6.90" width="1.7" height="2.3" fill="#b4d030"/><rect x="306.25" y="4.60" width="1.7" height="1.3" fill="#777" opacity=".8"/><rect x="313.73" y="6.90" width="1.7" height="2.3" fill="#b4d030"/><rect x="313.73" y="4.60" width="1.7" height="1.3" fill="#777" opacity=".8"/><rect x="318.65" y="12.90" width="12.91" height="8.10" fill="#242424"/><rect x="322.39" y="11.60" width="5.42" height="1.5" fill="#242424"/><rect x="319.45" y="16.30" width="11.31" height="4.10" fill="#0f0f0f"/><rect x="319.85" y="13.80" width="10.51" height="2.27" fill="#3c3c3c"/><rect x="318.65" y="26.00" width="12.91" height="9.05" fill="#242424"/><rect x="322.39" y="34.84" width="5.42" height="1.5" fill="#242424"/><rect x="319.45" y="26.60" width="11.31" height="4.65" fill="#0f0f0f"/><rect x="319.85" y="31.96" width="10.51" height="2.35" fill="#3c3c3c"/><rect x="320.46" y="6.90" width="1.7" height="2.3" fill="#b4d030"/><rect x="320.46" y="4.60" width="1.7" height="1.3" fill="#777" opacity=".8"/><rect x="327.95" y="6.90" width="1.7" height="2.3" fill="#b4d030"/><rect x="327.95" y="4.60" width="1.7" height="1.3" fill="#777" opacity=".8"/><rect x="332.86" y="12.90" width="12.91" height="8.10" fill="#242424"/><rect x="336.61" y="11.60" width="5.42" height="1.5" fill="#242424"/><rect x="333.66" y="16.30" width="11.31" height="4.10" fill="#0f0f0f"/><rect x="334.06" y="13.80" width="10.51" height="2.27" fill="#3c3c3c"/><rect x="332.86" y="26.00" width="12.91" height="9.05" fill="#242424"/><rect x="336.61" y="34.84" width="5.42" height="1.5" fill="#242424"/><rect x="333.66" y="26.60" width="11.31" height="4.65" fill="#0f0f0f"/><rect x="334.06" y="31.96" width="10.51" height="2.35" fill="#3c3c3c"/><rect x="334.67" y="6.90" width="1.7" height="2.3" fill="#b4d030"/><rect x="334.67" y="4.60" width="1.7" height="1.3" fill="#777" opacity=".8"/><rect x="342.16" y="6.90" width="1.7" height="2.3" fill="#b4d030"/><rect x="342.16" y="4.60" width="1.7" height="1.3" fill="#777" opacity=".8"/><rect x="347.07" y="12.90" width="12.91" height="8.10" fill="#242424"/><rect x="350.82" y="11.60" width="5.42" height="1.5" fill="#242424"/><rect x="347.88" y="16.30" width="11.31" height="4.10" fill="#0f0f0f"/><rect x="348.27" y="13.80" width="10.51" height="2.27" fill="#3c3c3c"/><rect x="347.07" y="26.00" width="12.91" height="9.05" fill="#242424"/><rect x="350.82" y="34.84" width="5.42" height="1.5" fill="#242424"/><rect x="347.88" y="26.60" width="11.31" height="4.65" fill="#0f0f0f"/><rect x="348.27" y="31.96" width="10.51" height="2.35" fill="#3c3c3c"/><rect x="348.88" y="6.90" width="1.7" height="2.3" fill="#b4d030"/><rect x="348.88" y="4.60" width="1.7" height="1.3" fill="#777" opacity=".8"/><rect x="356.37" y="6.90" width="1.7" height="2.3" fill="#b4d030"/><rect x="356.37" y="4.60" width="1.7" height="1.3" fill="#777" opacity=".8"/><rect x="361.29" y="12.90" width="12.91" height="8.10" fill="#242424"/><rect x="365.03" y="11.60" width="5.42" height="1.5" fill="#242424"/><rect x="362.09" y="16.30" width="11.31" height="4.10" fill="#0f0f0f"/><rect x="362.49" y="13.80" width="10.51" height="2.27" fill="#3c3c3c"/><rect x="361.29" y="26.00" width="12.91" height="9.05" fill="#242424"/><rect x="365.03" y="34.84" width="5.42" height="1.5" fill="#242424"/><rect x="362.09" y="26.60" width="11.31" height="4.65" fill="#0f0f0f"/><rect x="362.49" y="31.96" width="10.51" height="2.35" fill="#3c3c3c"/><rect x="363.10" y="6.90" width="1.7" height="2.3" fill="#b4d030"/><rect x="363.10" y="4.60" width="1.7" height="1.3" fill="#777" opacity=".8"/><rect x="370.58" y="6.90" width="1.7" height="2.3" fill="#b4d030"/><rect x="370.58" y="4.60" width="1.7" height="1.3" fill="#777" opacity=".8"/><rect x="261.40" y="38.50" width="32.82" height="0.9" fill="#9a9a9a" opacity=".5"/><rect x="301.59" y="38.50" width="25.78" height="0.9" fill="#5f8f3a" opacity=".45"/><rect x="380.20" y="10.60" width="19.20" height="26.60" rx="0.8" fill="#f0eee9"/><rect x="382.80" y="13.26" width="14.00" height="8.78" fill="#242424"/><rect x="386.86" y="11.96" width="5.88" height="1.5" fill="#242424"/><rect x="383.60" y="16.95" width="12.40" height="4.49" fill="#0f0f0f"/><rect x="384.00" y="14.16" width="11.60" height="2.46" fill="#3c3c3c"/><rect x="382.80" y="26.56" width="14.00" height="8.78" fill="#242424"/><rect x="386.86" y="35.14" width="5.88" height="1.5" fill="#242424"/><rect x="383.60" y="27.16" width="12.40" height="4.49" fill="#0f0f0f"/><rect x="384.00" y="32.35" width="11.60" height="2.28" fill="#3c3c3c"/><rect x="387.20" y="31.88" width="2" height="3" fill="#c8a24a"/><rect x="402.60" y="10.90" width="16.90" height="26.60" rx="0.6" fill="#958f82"/><rect x="403.50" y="11.90" width="15.10" height="9.98" fill="#26211b"/><rect x="403.50" y="26.29" width="15.10" height="9.84" fill="#26211b"/><rect x="403.50" y="21.91" width="15.10" height="4.39" fill="#efeee9"/><rect x="405.10" y="13.20" width="11.90" height="2.66" fill="#4a453d"/><rect x="405.10" y="27.09" width="11.90" height="2.66" fill="#4a453d"/><circle cx="406.20" cy="23.90" r="0.8" fill="#333"/><circle cx="415.90" cy="23.90" r="0.8" fill="#333"/><rect x="383.20" y="5.6" width="1.5" height="1.9" fill="#b4d030"/><rect x="391.20" y="5.6" width="1.5" height="1.9" fill="#b4d030"/><rect x="380.70" y="6" width="2" height="1.3" fill="#aaa" opacity=".75"/><rect x="386.70" y="6" width="2" height="1.3" fill="#aaa" opacity=".75"/><rect x="393.70" y="6" width="2" height="1.3" fill="#aaa" opacity=".75"/><rect x="405.60" y="6" width="2" height="1.3" fill="#aaa" opacity=".75"/><rect x="413.60" y="6" width="2" height="1.3" fill="#aaa" opacity=".75"/><rect x="380.20" y="38.80" width="18" height="1.0" fill="#aaa" opacity=".7"/><rect x="401.20" y="38.70" width="1.6" height="1.3" fill="#5fb83a" opacity=".9"/><rect x="404.70" y="38.70" width="1.6" height="1.3" fill="#5fb83a" opacity=".9"/><rect x="408.20" y="38.60" width="1.6" height="1.4" fill="#e8a020"/><rect x="421.00" y="25.90" width="10.00" height="11.40" fill="#3a3a3a"/><text x="426.00" y="35.70" font-size="9" class="fm" fill="#9c9c9c" text-anchor="middle" textLength="7.60" lengthAdjust="spacingAndGlyphs">18</text><rect x="421.00" y="22.00" width="9.50" height="1.7" fill="#d0d0d0" opacity=".8"/></svg></div>
<svg width="900" height="580" viewBox="0 0 900 580"><defs><linearGradient id="lit3" x1="809" y1="461" x2="869" y2="415" gradientUnits="userSpaceOnUse"><stop offset="0" stop-color="rgb(90,90,90)"/><stop offset="0.35" stop-color="rgb(124,124,124)"/><stop offset="1" stop-color="rgb(126,126,126)"/></linearGradient></defs><polygon points="810.3,446.0 872.6,393.9 869.2,414.7 809.2,460.8" fill="url(#lit3)"/><ellipse cx="845.6" cy="427.4" rx="1.6" ry="1.0" fill="#151515"/><ellipse cx="822.0" cy="445.2" rx="1.6" ry="1.0" fill="#151515"/><path d="M809.0,461.1 L869.2,415.1" stroke="#dcdcdc" stroke-width="1.6" stroke-linecap="round" fill="none"/><path d="M809.2,461.8 L808.5,500.9" stroke="#6a6a6a" stroke-width="0.9" opacity=".8" fill="none"/></svg>
<div class="face" style="width:440px;height:260px;transform:matrix3d(0.49906979,0.027159198,0,-0.00022422775,-0.58182564,-0.024466306,0,-0.00044897339,0,0,1,0,568,311,0,1)"><svg width="440" height="260" viewBox="0 0 440 260"><defs><linearGradient id="tg2" x1="0" y1="0" x2="1" y2="0"><stop offset="0" stop-color="#2e2e2e"/><stop offset="0.3" stop-color="#3c3c3c"/><stop offset="0.5" stop-color="#464646"/><stop offset="0.8" stop-color="#4e4e4e"/><stop offset="1" stop-color="#565656"/></linearGradient>
<linearGradient id="tf2" x1="0" y1="0" x2="0" y2="1"><stop offset="0" stop-color="#fff" stop-opacity=".06"/><stop offset="0.7" stop-color="#fff" stop-opacity="0"/></linearGradient></defs><rect width="440" height="260" fill="url(#tg2)"/><rect width="440" height="260" fill="url(#tf2)"/><rect x="0" y="251" width="440" height="7" fill="#000" opacity=".32"/><ellipse cx="432" cy="84" rx="2.6" ry="3.4" fill="#111"/><ellipse cx="432" cy="185" rx="2.6" ry="3.4" fill="#111"/><rect x="319.0" y="240.0" width="3.0" height="6.5" rx="1.2" fill="#0c0c0c"/><rect x="323.4" y="240.0" width="3.0" height="6.5" rx="1.2" fill="#0c0c0c"/><rect x="327.8" y="240.0" width="3.0" height="6.5" rx="1.2" fill="#0c0c0c"/><rect x="332.2" y="240.0" width="3.0" height="6.5" rx="1.2" fill="#0c0c0c"/><rect x="336.6" y="240.0" width="3.0" height="6.5" rx="1.2" fill="#0c0c0c"/><rect x="341.0" y="240.0" width="3.0" height="6.5" rx="1.2" fill="#0c0c0c"/><rect x="345.4" y="240.0" width="3.0" height="6.5" rx="1.2" fill="#0c0c0c"/><rect x="349.8" y="240.0" width="3.0" height="6.5" rx="1.2" fill="#0c0c0c"/><rect x="354.2" y="240.0" width="3.0" height="6.5" rx="1.2" fill="#0c0c0c"/><rect x="321.2" y="249.0" width="3.0" height="6.5" rx="1.2" fill="#0c0c0c"/><rect x="325.6" y="249.0" width="3.0" height="6.5" rx="1.2" fill="#0c0c0c"/><rect x="330.0" y="249.0" width="3.0" height="6.5" rx="1.2" fill="#0c0c0c"/><rect x="334.4" y="249.0" width="3.0" height="6.5" rx="1.2" fill="#0c0c0c"/><rect x="338.8" y="249.0" width="3.0" height="6.5" rx="1.2" fill="#0c0c0c"/><rect x="343.2" y="249.0" width="3.0" height="6.5" rx="1.2" fill="#0c0c0c"/><rect x="347.6" y="249.0" width="3.0" height="6.5" rx="1.2" fill="#0c0c0c"/><rect x="352.0" y="249.0" width="3.0" height="6.5" rx="1.2" fill="#0c0c0c"/><rect x="356.4" y="249.0" width="3.0" height="6.5" rx="1.2" fill="#0c0c0c"/></svg></div>
<div class="face" style="width:260px;height:44px;transform:matrix3d(0.95243683,0.11765635,0,0.00081357103,0.20692464,1.0885598,0,0.00027500152,0,0,1,0,811,403.5,0,1)"><svg width="260" height="44" viewBox="0 0 260 44"><defs><linearGradient id="sg2" x1="0" y1="0" x2="1" y2="0"><stop offset="0" stop-color="#363636"/><stop offset="1" stop-color="#2c2c2c"/></linearGradient>
<pattern id="vp2" x="0" y="0" width="9" height="3.4" patternUnits="userSpaceOnUse"><rect x="0.8" y="0.7" width="6.6" height="1.9" rx="0.9" fill="#1c1c1c"/></pattern></defs><rect width="260" height="44" fill="url(#sg2)"/><rect x="67" y="7.2" width="166" height="27.2" fill="url(#vp2)"/><circle cx="10.5" cy="12.2" r="1.6" fill="#c4c4c4"/><circle cx="40" cy="12.2" r="1.6" fill="#c4c4c4"/><circle cx="9.5" cy="36" r="1.6" fill="#c4c4c4"/><circle cx="37" cy="36" r="1.6" fill="#c4c4c4"/></svg></div>
<div class="face" style="width:440px;height:44px;transform:matrix3d(0.60559878,0.050934335,0,-0.00020383515,0.10781048,0.94659071,0,0.00015092277,0,0,1,0,471.8,344.9,0,1)"><svg width="440" height="44" viewBox="0 0 440 44"><defs><linearGradient id="shL2" x1="0" y1="0" x2="70" y2="12" gradientUnits="userSpaceOnUse"><stop offset="0" stop-color="#303030"/><stop offset="1" stop-color="#1c1c1c"/></linearGradient>
<linearGradient id="shR2" x1="395" y1="0" x2="440" y2="10" gradientUnits="userSpaceOnUse"><stop offset="0" stop-color="#292929"/><stop offset="1" stop-color="#373737"/></linearGradient>
<linearGradient id="bev2" x1="0" y1="0" x2="0" y2="1"><stop offset="0" stop-color="#303030"/><stop offset="1" stop-color="#141414"/></linearGradient></defs><rect width="440" height="44" fill="#080808"/><polygon points="0,0 86,0 47.5,44 0,44" fill="url(#shL2)"/><polygon points="422.5,0 440,0 440,44 387.5,44" fill="url(#shR2)"/><rect width="440" height="1.6" fill="url(#bev2)"/><text x="5.6" y="10.3" class="fs" font-weight="700" font-size="7.6" fill="#fff" textLength="24.6" lengthAdjust="spacingAndGlyphs">D-Link</text><rect x="6.5" y="35.2" width="20" height="1.7" fill="#f0f0f0" opacity=".8"/><rect x="82.6" y="22.0" width="2" height="2" fill="#b4d030"/><rect x="82.6" y="26.8" width="2" height="2" fill="#b4d030"/><rect x="82.6" y="31.6" width="2" height="2" fill="#b4d030"/><rect x="74" y="27.3" width="7.4" height="1.0" fill="#aaa" opacity=".7"/><rect x="74" y="32.0" width="7.4" height="1.0" fill="#aaa" opacity=".7"/><rect x="99.4" y="30.6" width="1.2" height="1.2" fill="#999"/><rect x="95.5" y="34.6" width="10" height="1.0" fill="#aaa" opacity=".7"/><rect x="112.3" y="22.4" width="15.9" height="13.9" rx="0.6" fill="#f0eee9"/><rect x="114.40" y="24.20" width="11.70" height="8.60" fill="#242424"/><rect x="117.79" y="32.60" width="4.91" height="1.5" fill="#242424"/><rect x="115.20" y="24.80" width="10.10" height="4.39" fill="#0f0f0f"/><rect x="115.60" y="29.88" width="9.30" height="2.24" fill="#3c3c3c"/><rect x="115" y="19.4" width="10" height="1.0" fill="#aaa" opacity=".7"/><rect x="130.60" y="10.20" width="58.80" height="26.90" rx="0.8" fill="#f0eee9"/><rect x="133.00" y="12.89" width="12.53" height="8.07" fill="#242424"/><rect x="136.63" y="11.59" width="5.26" height="1.5" fill="#242424"/><rect x="133.80" y="16.28" width="10.93" height="4.08" fill="#0f0f0f"/><rect x="134.20" y="13.79" width="10.13" height="2.26" fill="#3c3c3c"/><rect x="133.00" y="25.94" width="12.53" height="9.01" fill="#242424"/><rect x="136.63" y="34.75" width="5.26" height="1.5" fill="#242424"/><rect x="133.80" y="26.54" width="10.93" height="4.63" fill="#0f0f0f"/><rect x="134.20" y="31.88" width="10.13" height="2.34" fill="#3c3c3c"/><rect x="134.75" y="6.90" width="1.7" height="2.3" fill="#b4d030"/><rect x="134.75" y="4.60" width="1.7" height="1.3" fill="#777" opacity=".8"/><rect x="142.02" y="6.90" width="1.7" height="2.3" fill="#b4d030"/><rect x="142.02" y="4.60" width="1.7" height="1.3" fill="#777" opacity=".8"/><rect x="146.82" y="12.89" width="12.53" height="8.07" fill="#242424"/><rect x="150.46" y="11.59" width="5.26" height="1.5" fill="#242424"/><rect x="147.62" y="16.28" width="10.93" height="4.08" fill="#0f0f0f"/><rect x="148.02" y="13.79" width="10.13" height="2.26" fill="#3c3c3c"/><rect x="146.82" y="25.94" width="12.53" height="9.01" fill="#242424"/><rect x="150.46" y="34.75" width="5.26" height="1.5" fill="#242424"/><rect x="147.62" y="26.54" width="10.93" height="4.63" fill="#0f0f0f"/><rect x="148.02" y="31.88" width="10.13" height="2.34" fill="#3c3c3c"/><rect x="148.58" y="6.90" width="1.7" height="2.3" fill="#b4d030"/><rect x="148.58" y="4.60" width="1.7" height="1.3" fill="#777" opacity=".8"/><rect x="155.84" y="6.90" width="1.7" height="2.3" fill="#b4d030"/><rect x="155.84" y="4.60" width="1.7" height="1.3" fill="#777" opacity=".8"/><rect x="160.65" y="12.89" width="12.53" height="8.07" fill="#242424"/><rect x="164.28" y="11.59" width="5.26" height="1.5" fill="#242424"/><rect x="161.45" y="16.28" width="10.93" height="4.08" fill="#0f0f0f"/><rect x="161.85" y="13.79" width="10.13" height="2.26" fill="#3c3c3c"/><rect x="160.65" y="25.94" width="12.53" height="9.01" fill="#242424"/><rect x="164.28" y="34.75" width="5.26" height="1.5" fill="#242424"/><rect x="161.45" y="26.54" width="10.93" height="4.63" fill="#0f0f0f"/><rect x="161.85" y="31.88" width="10.13" height="2.34" fill="#3c3c3c"/><rect x="162.40" y="6.90" width="1.7" height="2.3" fill="#b4d030"/><rect x="162.40" y="4.60" width="1.7" height="1.3" fill="#777" opacity=".8"/><rect x="169.67" y="6.90" width="1.7" height="2.3" fill="#b4d030"/><rect x="169.67" y="4.60" width="1.7" height="1.3" fill="#777" opacity=".8"/><rect x="174.48" y="12.89" width="12.53" height="8.07" fill="#242424"/><rect x="178.11" y="11.59" width="5.26" height="1.5" fill="#242424"/><rect x="175.28" y="16.28" width="10.93" height="4.08" fill="#0f0f0f"/><rect x="175.68" y="13.79" width="10.13" height="2.26" fill="#3c3c3c"/><rect x="174.48" y="25.94" width="12.53" height="9.01" fill="#242424"/><rect x="178.11" y="34.75" width="5.26" height="1.5" fill="#242424"/><rect x="175.28" y="26.54" width="10.93" height="4.63" fill="#0f0f0f"/><rect x="175.68" y="31.88" width="10.13" height="2.34" fill="#3c3c3c"/><rect x="176.23" y="6.90" width="1.7" height="2.3" fill="#b4d030"/><rect x="176.23" y="4.60" width="1.7" height="1.3" fill="#777" opacity=".8"/><rect x="183.49" y="6.90" width="1.7" height="2.3" fill="#b4d030"/><rect x="183.49" y="4.60" width="1.7" height="1.3" fill="#777" opacity=".8"/><rect x="132.60" y="38.40" width="16.46" height="0.9" fill="#9a9a9a" opacity=".5"/><rect x="151.77" y="38.40" width="12.94" height="0.9" fill="#5f8f3a" opacity=".45"/><rect x="192.10" y="10.20" width="59.30" height="26.90" rx="0.8" fill="#f0eee9"/><rect x="194.50" y="12.89" width="12.65" height="8.07" fill="#242424"/><rect x="198.17" y="11.59" width="5.31" height="1.5" fill="#242424"/><rect x="195.30" y="16.28" width="11.05" height="4.08" fill="#0f0f0f"/><rect x="195.70" y="13.79" width="10.25" height="2.26" fill="#3c3c3c"/><rect x="194.50" y="25.94" width="12.65" height="9.01" fill="#242424"/><rect x="198.17" y="34.75" width="5.31" height="1.5" fill="#242424"/><rect x="195.30" y="26.54" width="11.05" height="4.63" fill="#0f0f0f"/><rect x="195.70" y="31.88" width="10.25" height="2.34" fill="#3c3c3c"/><rect x="196.27" y="6.90" width="1.7" height="2.3" fill="#b4d030"/><rect x="196.27" y="4.60" width="1.7" height="1.3" fill="#777" opacity=".8"/><rect x="203.61" y="6.90" width="1.7" height="2.3" fill="#b4d030"/><rect x="203.61" y="4.60" width="1.7" height="1.3" fill="#777" opacity=".8"/><rect x="208.45" y="12.89" width="12.65" height="8.07" fill="#242424"/><rect x="212.12" y="11.59" width="5.31" height="1.5" fill="#242424"/><rect x="209.25" y="16.28" width="11.05" height="4.08" fill="#0f0f0f"/><rect x="209.65" y="13.79" width="10.25" height="2.26" fill="#3c3c3c"/><rect x="208.45" y="25.94" width="12.65" height="9.01" fill="#242424"/><rect x="212.12" y="34.75" width="5.31" height="1.5" fill="#242424"/><rect x="209.25" y="26.54" width="11.05" height="4.63" fill="#0f0f0f"/><rect x="209.65" y="31.88" width="10.25" height="2.34" fill="#3c3c3c"/><rect x="210.22" y="6.90" width="1.7" height="2.3" fill="#b4d030"/><rect x="210.22" y="4.60" width="1.7" height="1.3" fill="#777" opacity=".8"/><rect x="217.56" y="6.90" width="1.7" height="2.3" fill="#b4d030"/><rect x="217.56" y="4.60" width="1.7" height="1.3" fill="#777" opacity=".8"/><rect x="222.40" y="12.89" width="12.65" height="8.07" fill="#242424"/><rect x="226.07" y="11.59" width="5.31" height="1.5" fill="#242424"/><rect x="223.20" y="16.28" width="11.05" height="4.08" fill="#0f0f0f"/><rect x="223.60" y="13.79" width="10.25" height="2.26" fill="#3c3c3c"/><rect x="222.40" y="25.94" width="12.65" height="9.01" fill="#242424"/><rect x="226.07" y="34.75" width="5.31" height="1.5" fill="#242424"/><rect x="223.20" y="26.54" width="11.05" height="4.63" fill="#0f0f0f"/><rect x="223.60" y="31.88" width="10.25" height="2.34" fill="#3c3c3c"/><rect x="224.17" y="6.90" width="1.7" height="2.3" fill="#b4d030"/><rect x="224.17" y="4.60" width="1.7" height="1.3" fill="#777" opacity=".8"/><rect x="231.51" y="6.90" width="1.7" height="2.3" fill="#b4d030"/><rect x="231.51" y="4.60" width="1.7" height="1.3" fill="#777" opacity=".8"/><rect x="236.35" y="12.89" width="12.65" height="8.07" fill="#242424"/><rect x="240.02" y="11.59" width="5.31" height="1.5" fill="#242424"/><rect x="237.15" y="16.28" width="11.05" height="4.08" fill="#0f0f0f"/><rect x="237.55" y="13.79" width="10.25" height="2.26" fill="#3c3c3c"/><rect x="236.35" y="25.94" width="12.65" height="9.01" fill="#242424"/><rect x="240.02" y="34.75" width="5.31" height="1.5" fill="#242424"/><rect x="237.15" y="26.54" width="11.05" height="4.63" fill="#0f0f0f"/><rect x="237.55" y="31.88" width="10.25" height="2.34" fill="#3c3c3c"/><rect x="238.12" y="6.90" width="1.7" height="2.3" fill="#b4d030"/><rect x="238.12" y="4.60" width="1.7" height="1.3" fill="#777" opacity=".8"/><rect x="245.46" y="6.90" width="1.7" height="2.3" fill="#b4d030"/><rect x="245.46" y="4.60" width="1.7" height="1.3" fill="#777" opacity=".8"/><rect x="194.10" y="38.40" width="16.60" height="0.9" fill="#9a9a9a" opacity=".5"/><rect x="213.45" y="38.40" width="13.05" height="0.9" fill="#5f8f3a" opacity=".45"/><rect x="254.80" y="10.20" width="60.30" height="26.90" rx="0.8" fill="#f0eee9"/><rect x="257.20" y="12.89" width="12.90" height="8.07" fill="#242424"/><rect x="260.94" y="11.59" width="5.42" height="1.5" fill="#242424"/><rect x="258.00" y="16.28" width="11.30" height="4.08" fill="#0f0f0f"/><rect x="258.40" y="13.79" width="10.50" height="2.26" fill="#3c3c3c"/><rect x="257.20" y="25.94" width="12.90" height="9.01" fill="#242424"/><rect x="260.94" y="34.75" width="5.42" height="1.5" fill="#242424"/><rect x="258.00" y="26.54" width="11.30" height="4.63" fill="#0f0f0f"/><rect x="258.40" y="31.88" width="10.50" height="2.34" fill="#3c3c3c"/><rect x="259.01" y="6.90" width="1.7" height="2.3" fill="#b4d030"/><rect x="259.01" y="4.60" width="1.7" height="1.3" fill="#777" opacity=".8"/><rect x="266.49" y="6.90" width="1.7" height="2.3" fill="#b4d030"/><rect x="266.49" y="4.60" width="1.7" height="1.3" fill="#777" opacity=".8"/><rect x="271.40" y="12.89" width="12.90" height="8.07" fill="#242424"/><rect x="275.14" y="11.59" width="5.42" height="1.5" fill="#242424"/><rect x="272.20" y="16.28" width="11.30" height="4.08" fill="#0f0f0f"/><rect x="272.60" y="13.79" width="10.50" height="2.26" fill="#3c3c3c"/><rect x="271.40" y="25.94" width="12.90" height="9.01" fill="#242424"/><rect x="275.14" y="34.75" width="5.42" height="1.5" fill="#242424"/><rect x="272.20" y="26.54" width="11.30" height="4.63" fill="#0f0f0f"/><rect x="272.60" y="31.88" width="10.50" height="2.34" fill="#3c3c3c"/><rect x="273.21" y="6.90" width="1.7" height="2.3" fill="#b4d030"/><rect x="273.21" y="4.60" width="1.7" height="1.3" fill="#777" opacity=".8"/><rect x="280.69" y="6.90" width="1.7" height="2.3" fill="#b4d030"/><rect x="280.69" y="4.60" width="1.7" height="1.3" fill="#777" opacity=".8"/><rect x="285.60" y="12.89" width="12.90" height="8.07" fill="#242424"/><rect x="289.34" y="11.59" width="5.42" height="1.5" fill="#242424"/><rect x="286.40" y="16.28" width="11.30" height="4.08" fill="#0f0f0f"/><rect x="286.80" y="13.79" width="10.50" height="2.26" fill="#3c3c3c"/><rect x="285.60" y="25.94" width="12.90" height="9.01" fill="#242424"/><rect x="289.34" y="34.75" width="5.42" height="1.5" fill="#242424"/><rect x="286.40" y="26.54" width="11.30" height="4.63" fill="#0f0f0f"/><rect x="286.80" y="31.88" width="10.50" height="2.34" fill="#3c3c3c"/><rect x="287.41" y="6.90" width="1.7" height="2.3" fill="#b4d030"/><rect x="287.41" y="4.60" width="1.7" height="1.3" fill="#777" opacity=".8"/><rect x="294.89" y="6.90" width="1.7" height="2.3" fill="#b4d030"/><rect x="294.89" y="4.60" width="1.7" height="1.3" fill="#777" opacity=".8"/><rect x="299.80" y="12.89" width="12.90" height="8.07" fill="#242424"/><rect x="303.54" y="11.59" width="5.42" height="1.5" fill="#242424"/><rect x="300.60" y="16.28" width="11.30" height="4.08" fill="#0f0f0f"/><rect x="301.00" y="13.79" width="10.50" height="2.26" fill="#3c3c3c"/><rect x="299.80" y="25.94" width="12.90" height="9.01" fill="#242424"/><rect x="303.54" y="34.75" width="5.42" height="1.5" fill="#242424"/><rect x="300.60" y="26.54" width="11.30" height="4.63" fill="#0f0f0f"/><rect x="301.00" y="31.88" width="10.50" height="2.34" fill="#3c3c3c"/><rect x="301.61" y="6.90" width="1.7" height="2.3" fill="#b4d030"/><rect x="301.61" y="4.60" width="1.7" height="1.3" fill="#777" opacity=".8"/><rect x="309.09" y="6.90" width="1.7" height="2.3" fill="#b4d030"/><rect x="309.09" y="4.60" width="1.7" height="1.3" fill="#777" opacity=".8"/><rect x="256.80" y="38.40" width="16.88" height="0.9" fill="#9a9a9a" opacity=".5"/><rect x="276.51" y="38.40" width="13.27" height="0.9" fill="#5f8f3a" opacity=".45"/><rect x="318.50" y="10.30" width="19.30" height="26.20" rx="0.8" fill="#f0eee9"/><rect x="321.10" y="12.92" width="14.10" height="8.65" fill="#242424"/><rect x="325.19" y="11.62" width="5.92" height="1.5" fill="#242424"/><rect x="321.90" y="16.55" width="12.50" height="4.41" fill="#0f0f0f"/><rect x="322.30" y="13.82" width="11.70" height="2.42" fill="#3c3c3c"/><rect x="321.10" y="26.02" width="14.10" height="8.65" fill="#242424"/><rect x="325.19" y="34.47" width="5.92" height="1.5" fill="#242424"/><rect x="321.90" y="26.62" width="12.50" height="4.41" fill="#0f0f0f"/><rect x="322.30" y="31.73" width="11.70" height="2.25" fill="#3c3c3c"/><rect x="325.50" y="31.26" width="2" height="3" fill="#c8a24a"/><rect x="340.90" y="10.60" width="17.40" height="26.20" rx="0.6" fill="#958f82"/><rect x="341.80" y="11.60" width="15.60" height="9.82" fill="#26211b"/><rect x="341.80" y="25.76" width="15.60" height="9.69" fill="#26211b"/><rect x="341.80" y="21.44" width="15.60" height="4.32" fill="#efeee9"/><rect x="343.40" y="12.90" width="12.40" height="2.62" fill="#4a453d"/><rect x="343.40" y="26.54" width="12.40" height="2.62" fill="#4a453d"/><circle cx="344.50" cy="23.40" r="0.8" fill="#333"/><circle cx="354.70" cy="23.40" r="0.8" fill="#333"/><rect x="321.50" y="5.6" width="1.5" height="1.9" fill="#b4d030"/><rect x="329.50" y="5.6" width="1.5" height="1.9" fill="#b4d030"/><rect x="319.00" y="6" width="2" height="1.3" fill="#aaa" opacity=".75"/><rect x="325.00" y="6" width="2" height="1.3" fill="#aaa" opacity=".75"/><rect x="332.00" y="6" width="2" height="1.3" fill="#aaa" opacity=".75"/><rect x="343.90" y="6" width="2" height="1.3" fill="#aaa" opacity=".75"/><rect x="351.90" y="6" width="2" height="1.3" fill="#aaa" opacity=".75"/><rect x="318.50" y="38.10" width="18" height="1.0" fill="#aaa" opacity=".7"/><rect x="339.50" y="38.00" width="1.6" height="1.3" fill="#5fb83a" opacity=".9"/><rect x="343.00" y="38.00" width="1.6" height="1.3" fill="#5fb83a" opacity=".9"/><rect x="346.50" y="37.90" width="1.6" height="1.4" fill="#e8a020"/><rect x="360.00" y="25.40" width="10.00" height="10.50" fill="#3a3a3a"/><text x="365.00" y="34.30" font-size="9" class="fm" fill="#9c9c9c" text-anchor="middle" textLength="7.60" lengthAdjust="spacingAndGlyphs">18</text><rect x="360.00" y="21.50" width="9.50" height="1.7" fill="#d0d0d0" opacity=".8"/></svg></div>
<svg width="900" height="580" viewBox="0 0 900 580"><defs><linearGradient id="lit2" x1="811" y1="404" x2="874" y2="358" gradientUnits="userSpaceOnUse"><stop offset="0" stop-color="rgb(70,70,70)"/><stop offset="0.35" stop-color="rgb(104,104,104)"/><stop offset="1" stop-color="rgb(106,106,106)"/></linearGradient></defs><polygon points="812.0,387.8 875.0,341.8 873.8,358.3 811.0,403.5" fill="url(#lit2)"/><ellipse cx="849.0" cy="370.5" rx="1.6" ry="1.0" fill="#151515"/><ellipse cx="824.3" cy="388.0" rx="1.6" ry="1.0" fill="#151515"/><path d="M810.8,403.8 L873.8,358.7" stroke="#e0e0e0" stroke-width="1.6" stroke-linecap="round" fill="none"/><path d="M811.0,404.5 L810.3,445.5" stroke="#6a6a6a" stroke-width="0.9" opacity=".8" fill="none"/></svg>
<div class="face" style="width:440px;height:260px;transform:matrix3d(0.39496261,-0.020484918,0,-0.00035254625,-0.59979512,-0.040112019,0,-0.00048718547,0,0,1,0,566.5,267.8,0,1)"><svg width="440" height="260" viewBox="0 0 440 260"><defs><linearGradient id="tg1" x1="0" y1="0" x2="1" y2="0"><stop offset="0" stop-color="#2c2c2c"/><stop offset="0.2" stop-color="#363636"/><stop offset="0.42" stop-color="#484848"/><stop offset="0.6" stop-color="#555555"/><stop offset="0.8" stop-color="#5c5c5c"/><stop offset="1" stop-color="#646464"/></linearGradient>
<linearGradient id="tf1" x1="0" y1="0" x2="0" y2="1"><stop offset="0" stop-color="#fff" stop-opacity=".06"/><stop offset="0.7" stop-color="#fff" stop-opacity="0"/></linearGradient></defs><rect width="440" height="260" fill="url(#tg1)"/><rect width="440" height="260" fill="url(#tf1)"/><rect x="0" y="251" width="440" height="7" fill="#000" opacity=".32"/><ellipse cx="432" cy="84" rx="2.6" ry="3.4" fill="#111"/><ellipse cx="432" cy="185" rx="2.6" ry="3.4" fill="#111"/><rect x="319.0" y="240.0" width="3.0" height="6.5" rx="1.2" fill="#0c0c0c"/><rect x="323.4" y="240.0" width="3.0" height="6.5" rx="1.2" fill="#0c0c0c"/><rect x="327.8" y="240.0" width="3.0" height="6.5" rx="1.2" fill="#0c0c0c"/><rect x="332.2" y="240.0" width="3.0" height="6.5" rx="1.2" fill="#0c0c0c"/><rect x="336.6" y="240.0" width="3.0" height="6.5" rx="1.2" fill="#0c0c0c"/><rect x="341.0" y="240.0" width="3.0" height="6.5" rx="1.2" fill="#0c0c0c"/><rect x="345.4" y="240.0" width="3.0" height="6.5" rx="1.2" fill="#0c0c0c"/><rect x="349.8" y="240.0" width="3.0" height="6.5" rx="1.2" fill="#0c0c0c"/><rect x="354.2" y="240.0" width="3.0" height="6.5" rx="1.2" fill="#0c0c0c"/><rect x="321.2" y="249.0" width="3.0" height="6.5" rx="1.2" fill="#0c0c0c"/><rect x="325.6" y="249.0" width="3.0" height="6.5" rx="1.2" fill="#0c0c0c"/><rect x="330.0" y="249.0" width="3.0" height="6.5" rx="1.2" fill="#0c0c0c"/><rect x="334.4" y="249.0" width="3.0" height="6.5" rx="1.2" fill="#0c0c0c"/><rect x="338.8" y="249.0" width="3.0" height="6.5" rx="1.2" fill="#0c0c0c"/><rect x="343.2" y="249.0" width="3.0" height="6.5" rx="1.2" fill="#0c0c0c"/><rect x="347.6" y="249.0" width="3.0" height="6.5" rx="1.2" fill="#0c0c0c"/><rect x="352.0" y="249.0" width="3.0" height="6.5" rx="1.2" fill="#0c0c0c"/><rect x="356.4" y="249.0" width="3.0" height="6.5" rx="1.2" fill="#0c0c0c"/><mask id="lm" maskUnits="userSpaceOnUse" x="0" y="0" width="440" height="260"><rect width="440" height="260" fill="#fff"/><text x="118.9" y="155.6" class="fs" font-weight="700" font-size="68.3" textLength="207.3" lengthAdjust="spacingAndGlyphs" fill="#000" stroke="#000" stroke-width="3.4" stroke-linejoin="round">D-Link</text></mask><g mask="url(#lm)"><g opacity=".62"><text x="120.3" y="152.2" class="fs" font-weight="700" font-size="68.3" textLength="207.3" lengthAdjust="spacingAndGlyphs" fill="#000" stroke="#000" stroke-width="3.4" stroke-linejoin="round">D-Link</text></g></g><g opacity=".09"><text x="118.9" y="155.6" class="fs" font-weight="700" font-size="68.3" textLength="207.3" lengthAdjust="spacingAndGlyphs" fill="#fff" stroke="#fff" stroke-width="3.0" stroke-linejoin="round">D-Link</text></g></svg></div>
<div class="face" style="width:260px;height:44px;transform:matrix3d(0.84499928,0.059302286,0,0.00068960288,-0.090509829,0.92868598,0,-6.6682504e-05,0,0,1,0,813.6,345.8,0,1)"><svg width="260" height="44" viewBox="0 0 260 44"><defs><linearGradient id="sg1" x1="0" y1="0" x2="1" y2="0"><stop offset="0" stop-color="#3a3a3a"/><stop offset="1" stop-color="#313131"/></linearGradient>
<pattern id="vp1" x="0" y="0" width="9" height="3.4" patternUnits="userSpaceOnUse"><rect x="0.8" y="0.7" width="6.6" height="1.9" rx="0.9" fill="#1c1c1c"/></pattern></defs><rect width="260" height="44" fill="url(#sg1)"/><rect x="67" y="7.2" width="166" height="27.2" fill="url(#vp1)"/><circle cx="10.5" cy="12.2" r="1.6" fill="#d0d0d0"/><circle cx="40" cy="12.2" r="1.6" fill="#d0d0d0"/><circle cx="9.5" cy="36" r="1.6" fill="#d0d0d0"/><circle cx="37" cy="36" r="1.6" fill="#d0d0d0"/></svg></div>
<div class="face" style="width:440px;height:44px;transform:matrix3d(0.61459602,0.045545818,0,-0.00020413692,0.1271756,0.94535215,0,0.0001973806,0,0,1,0,470.1,294.7,0,1)"><svg width="440" height="44" viewBox="0 0 440 44"><defs><linearGradient id="shL1" x1="0" y1="0" x2="70" y2="12" gradientUnits="userSpaceOnUse"><stop offset="0" stop-color="#303030"/><stop offset="1" stop-color="#1c1c1c"/></linearGradient>
<linearGradient id="shR1" x1="395" y1="0" x2="440" y2="10" gradientUnits="userSpaceOnUse"><stop offset="0" stop-color="#292929"/><stop offset="1" stop-color="#373737"/></linearGradient>
<linearGradient id="bev1" x1="0" y1="0" x2="0" y2="1"><stop offset="0" stop-color="#303030"/><stop offset="1" stop-color="#141414"/></linearGradient></defs><rect width="440" height="44" fill="#080808"/><polygon points="0,0 86,0 47.5,44 0,44" fill="url(#shL1)"/><polygon points="422.5,0 440,0 440,44 387.5,44" fill="url(#shR1)"/><rect width="440" height="1.6" fill="url(#bev1)"/><text x="5.6" y="10.3" class="fs" font-weight="700" font-size="7.6" fill="#fff" textLength="24.6" lengthAdjust="spacingAndGlyphs">D-Link</text><rect x="6.5" y="35.2" width="20" height="1.7" fill="#f0f0f0" opacity=".8"/><rect x="82.6" y="22.0" width="2" height="2" fill="#b4d030"/><rect x="82.6" y="26.8" width="2" height="2" fill="#b4d030"/><rect x="82.6" y="31.6" width="2" height="2" fill="#b4d030"/><rect x="74" y="27.3" width="7.4" height="1.0" fill="#aaa" opacity=".7"/><rect x="74" y="32.0" width="7.4" height="1.0" fill="#aaa" opacity=".7"/><rect x="99.4" y="30.6" width="1.2" height="1.2" fill="#999"/><rect x="95.5" y="34.6" width="10" height="1.0" fill="#aaa" opacity=".7"/><rect x="112.3" y="22.4" width="15.9" height="13.9" rx="0.6" fill="#f0eee9"/><rect x="114.40" y="24.20" width="11.70" height="8.60" fill="#242424"/><rect x="117.79" y="32.60" width="4.91" height="1.5" fill="#242424"/><rect x="115.20" y="24.80" width="10.10" height="4.39" fill="#0f0f0f"/><rect x="115.60" y="29.88" width="9.30" height="2.24" fill="#3c3c3c"/><rect x="115" y="19.4" width="10" height="1.0" fill="#aaa" opacity=".7"/><rect x="130.60" y="10.20" width="58.80" height="26.90" rx="0.8" fill="#f0eee9"/><rect x="133.00" y="12.89" width="12.53" height="8.07" fill="#242424"/><rect x="136.63" y="11.59" width="5.26" height="1.5" fill="#242424"/><rect x="133.80" y="16.28" width="10.93" height="4.08" fill="#0f0f0f"/><rect x="134.20" y="13.79" width="10.13" height="2.26" fill="#3c3c3c"/><rect x="133.00" y="25.94" width="12.53" height="9.01" fill="#242424"/><rect x="136.63" y="34.75" width="5.26" height="1.5" fill="#242424"/><rect x="133.80" y="26.54" width="10.93" height="4.63" fill="#0f0f0f"/><rect x="134.20" y="31.88" width="10.13" height="2.34" fill="#3c3c3c"/><rect x="134.75" y="6.90" width="1.7" height="2.3" fill="#b4d030"/><rect x="134.75" y="4.60" width="1.7" height="1.3" fill="#777" opacity=".8"/><rect x="142.02" y="6.90" width="1.7" height="2.3" fill="#b4d030"/><rect x="142.02" y="4.60" width="1.7" height="1.3" fill="#777" opacity=".8"/><rect x="146.82" y="12.89" width="12.53" height="8.07" fill="#242424"/><rect x="150.46" y="11.59" width="5.26" height="1.5" fill="#242424"/><rect x="147.62" y="16.28" width="10.93" height="4.08" fill="#0f0f0f"/><rect x="148.02" y="13.79" width="10.13" height="2.26" fill="#3c3c3c"/><rect x="146.82" y="25.94" width="12.53" height="9.01" fill="#242424"/><rect x="150.46" y="34.75" width="5.26" height="1.5" fill="#242424"/><rect x="147.62" y="26.54" width="10.93" height="4.63" fill="#0f0f0f"/><rect x="148.02" y="31.88" width="10.13" height="2.34" fill="#3c3c3c"/><rect x="148.58" y="6.90" width="1.7" height="2.3" fill="#b4d030"/><rect x="148.58" y="4.60" width="1.7" height="1.3" fill="#777" opacity=".8"/><rect x="155.84" y="6.90" width="1.7" height="2.3" fill="#b4d030"/><rect x="155.84" y="4.60" width="1.7" height="1.3" fill="#777" opacity=".8"/><rect x="160.65" y="12.89" width="12.53" height="8.07" fill="#242424"/><rect x="164.28" y="11.59" width="5.26" height="1.5" fill="#242424"/><rect x="161.45" y="16.28" width="10.93" height="4.08" fill="#0f0f0f"/><rect x="161.85" y="13.79" width="10.13" height="2.26" fill="#3c3c3c"/><rect x="160.65" y="25.94" width="12.53" height="9.01" fill="#242424"/><rect x="164.28" y="34.75" width="5.26" height="1.5" fill="#242424"/><rect x="161.45" y="26.54" width="10.93" height="4.63" fill="#0f0f0f"/><rect x="161.85" y="31.88" width="10.13" height="2.34" fill="#3c3c3c"/><rect x="162.40" y="6.90" width="1.7" height="2.3" fill="#b4d030"/><rect x="162.40" y="4.60" width="1.7" height="1.3" fill="#777" opacity=".8"/><rect x="169.67" y="6.90" width="1.7" height="2.3" fill="#b4d030"/><rect x="169.67" y="4.60" width="1.7" height="1.3" fill="#777" opacity=".8"/><rect x="174.48" y="12.89" width="12.53" height="8.07" fill="#242424"/><rect x="178.11" y="11.59" width="5.26" height="1.5" fill="#242424"/><rect x="175.28" y="16.28" width="10.93" height="4.08" fill="#0f0f0f"/><rect x="175.68" y="13.79" width="10.13" height="2.26" fill="#3c3c3c"/><rect x="174.48" y="25.94" width="12.53" height="9.01" fill="#242424"/><rect x="178.11" y="34.75" width="5.26" height="1.5" fill="#242424"/><rect x="175.28" y="26.54" width="10.93" height="4.63" fill="#0f0f0f"/><rect x="175.68" y="31.88" width="10.13" height="2.34" fill="#3c3c3c"/><rect x="176.23" y="6.90" width="1.7" height="2.3" fill="#b4d030"/><rect x="176.23" y="4.60" width="1.7" height="1.3" fill="#777" opacity=".8"/><rect x="183.49" y="6.90" width="1.7" height="2.3" fill="#b4d030"/><rect x="183.49" y="4.60" width="1.7" height="1.3" fill="#777" opacity=".8"/><rect x="132.60" y="38.40" width="16.46" height="0.9" fill="#9a9a9a" opacity=".5"/><rect x="151.77" y="38.40" width="12.94" height="0.9" fill="#5f8f3a" opacity=".45"/><rect x="192.10" y="10.20" width="59.30" height="26.90" rx="0.8" fill="#f0eee9"/><rect x="194.50" y="12.89" width="12.65" height="8.07" fill="#242424"/><rect x="198.17" y="11.59" width="5.31" height="1.5" fill="#242424"/><rect x="195.30" y="16.28" width="11.05" height="4.08" fill="#0f0f0f"/><rect x="195.70" y="13.79" width="10.25" height="2.26" fill="#3c3c3c"/><rect x="194.50" y="25.94" width="12.65" height="9.01" fill="#242424"/><rect x="198.17" y="34.75" width="5.31" height="1.5" fill="#242424"/><rect x="195.30" y="26.54" width="11.05" height="4.63" fill="#0f0f0f"/><rect x="195.70" y="31.88" width="10.25" height="2.34" fill="#3c3c3c"/><rect x="196.27" y="6.90" width="1.7" height="2.3" fill="#b4d030"/><rect x="196.27" y="4.60" width="1.7" height="1.3" fill="#777" opacity=".8"/><rect x="203.61" y="6.90" width="1.7" height="2.3" fill="#b4d030"/><rect x="203.61" y="4.60" width="1.7" height="1.3" fill="#777" opacity=".8"/><rect x="208.45" y="12.89" width="12.65" height="8.07" fill="#242424"/><rect x="212.12" y="11.59" width="5.31" height="1.5" fill="#242424"/><rect x="209.25" y="16.28" width="11.05" height="4.08" fill="#0f0f0f"/><rect x="209.65" y="13.79" width="10.25" height="2.26" fill="#3c3c3c"/><rect x="208.45" y="25.94" width="12.65" height="9.01" fill="#242424"/><rect x="212.12" y="34.75" width="5.31" height="1.5" fill="#242424"/><rect x="209.25" y="26.54" width="11.05" height="4.63" fill="#0f0f0f"/><rect x="209.65" y="31.88" width="10.25" height="2.34" fill="#3c3c3c"/><rect x="210.22" y="6.90" width="1.7" height="2.3" fill="#b4d030"/><rect x="210.22" y="4.60" width="1.7" height="1.3" fill="#777" opacity=".8"/><rect x="217.56" y="6.90" width="1.7" height="2.3" fill="#b4d030"/><rect x="217.56" y="4.60" width="1.7" height="1.3" fill="#777" opacity=".8"/><rect x="222.40" y="12.89" width="12.65" height="8.07" fill="#242424"/><rect x="226.07" y="11.59" width="5.31" height="1.5" fill="#242424"/><rect x="223.20" y="16.28" width="11.05" height="4.08" fill="#0f0f0f"/><rect x="223.60" y="13.79" width="10.25" height="2.26" fill="#3c3c3c"/><rect x="222.40" y="25.94" width="12.65" height="9.01" fill="#242424"/><rect x="226.07" y="34.75" width="5.31" height="1.5" fill="#242424"/><rect x="223.20" y="26.54" width="11.05" height="4.63" fill="#0f0f0f"/><rect x="223.60" y="31.88" width="10.25" height="2.34" fill="#3c3c3c"/><rect x="224.17" y="6.90" width="1.7" height="2.3" fill="#b4d030"/><rect x="224.17" y="4.60" width="1.7" height="1.3" fill="#777" opacity=".8"/><rect x="231.51" y="6.90" width="1.7" height="2.3" fill="#b4d030"/><rect x="231.51" y="4.60" width="1.7" height="1.3" fill="#777" opacity=".8"/><rect x="236.35" y="12.89" width="12.65" height="8.07" fill="#242424"/><rect x="240.02" y="11.59" width="5.31" height="1.5" fill="#242424"/><rect x="237.15" y="16.28" width="11.05" height="4.08" fill="#0f0f0f"/><rect x="237.55" y="13.79" width="10.25" height="2.26" fill="#3c3c3c"/><rect x="236.35" y="25.94" width="12.65" height="9.01" fill="#242424"/><rect x="240.02" y="34.75" width="5.31" height="1.5" fill="#242424"/><rect x="237.15" y="26.54" width="11.05" height="4.63" fill="#0f0f0f"/><rect x="237.55" y="31.88" width="10.25" height="2.34" fill="#3c3c3c"/><rect x="238.12" y="6.90" width="1.7" height="2.3" fill="#b4d030"/><rect x="238.12" y="4.60" width="1.7" height="1.3" fill="#777" opacity=".8"/><rect x="245.46" y="6.90" width="1.7" height="2.3" fill="#b4d030"/><rect x="245.46" y="4.60" width="1.7" height="1.3" fill="#777" opacity=".8"/><rect x="194.10" y="38.40" width="16.60" height="0.9" fill="#9a9a9a" opacity=".5"/><rect x="213.45" y="38.40" width="13.05" height="0.9" fill="#5f8f3a" opacity=".45"/><rect x="254.80" y="10.20" width="60.30" height="26.90" rx="0.8" fill="#f0eee9"/><rect x="257.20" y="12.89" width="12.90" height="8.07" fill="#242424"/><rect x="260.94" y="11.59" width="5.42" height="1.5" fill="#242424"/><rect x="258.00" y="16.28" width="11.30" height="4.08" fill="#0f0f0f"/><rect x="258.40" y="13.79" width="10.50" height="2.26" fill="#3c3c3c"/><rect x="257.20" y="25.94" width="12.90" height="9.01" fill="#242424"/><rect x="260.94" y="34.75" width="5.42" height="1.5" fill="#242424"/><rect x="258.00" y="26.54" width="11.30" height="4.63" fill="#0f0f0f"/><rect x="258.40" y="31.88" width="10.50" height="2.34" fill="#3c3c3c"/><rect x="259.01" y="6.90" width="1.7" height="2.3" fill="#b4d030"/><rect x="259.01" y="4.60" width="1.7" height="1.3" fill="#777" opacity=".8"/><rect x="266.49" y="6.90" width="1.7" height="2.3" fill="#b4d030"/><rect x="266.49" y="4.60" width="1.7" height="1.3" fill="#777" opacity=".8"/><rect x="271.40" y="12.89" width="12.90" height="8.07" fill="#242424"/><rect x="275.14" y="11.59" width="5.42" height="1.5" fill="#242424"/><rect x="272.20" y="16.28" width="11.30" height="4.08" fill="#0f0f0f"/><rect x="272.60" y="13.79" width="10.50" height="2.26" fill="#3c3c3c"/><rect x="271.40" y="25.94" width="12.90" height="9.01" fill="#242424"/><rect x="275.14" y="34.75" width="5.42" height="1.5" fill="#242424"/><rect x="272.20" y="26.54" width="11.30" height="4.63" fill="#0f0f0f"/><rect x="272.60" y="31.88" width="10.50" height="2.34" fill="#3c3c3c"/><rect x="273.21" y="6.90" width="1.7" height="2.3" fill="#b4d030"/><rect x="273.21" y="4.60" width="1.7" height="1.3" fill="#777" opacity=".8"/><rect x="280.69" y="6.90" width="1.7" height="2.3" fill="#b4d030"/><rect x="280.69" y="4.60" width="1.7" height="1.3" fill="#777" opacity=".8"/><rect x="285.60" y="12.89" width="12.90" height="8.07" fill="#242424"/><rect x="289.34" y="11.59" width="5.42" height="1.5" fill="#242424"/><rect x="286.40" y="16.28" width="11.30" height="4.08" fill="#0f0f0f"/><rect x="286.80" y="13.79" width="10.50" height="2.26" fill="#3c3c3c"/><rect x="285.60" y="25.94" width="12.90" height="9.01" fill="#242424"/><rect x="289.34" y="34.75" width="5.42" height="1.5" fill="#242424"/><rect x="286.40" y="26.54" width="11.30" height="4.63" fill="#0f0f0f"/><rect x="286.80" y="31.88" width="10.50" height="2.34" fill="#3c3c3c"/><rect x="287.41" y="6.90" width="1.7" height="2.3" fill="#b4d030"/><rect x="287.41" y="4.60" width="1.7" height="1.3" fill="#777" opacity=".8"/><rect x="294.89" y="6.90" width="1.7" height="2.3" fill="#b4d030"/><rect x="294.89" y="4.60" width="1.7" height="1.3" fill="#777" opacity=".8"/><rect x="299.80" y="12.89" width="12.90" height="8.07" fill="#242424"/><rect x="303.54" y="11.59" width="5.42" height="1.5" fill="#242424"/><rect x="300.60" y="16.28" width="11.30" height="4.08" fill="#0f0f0f"/><rect x="301.00" y="13.79" width="10.50" height="2.26" fill="#3c3c3c"/><rect x="299.80" y="25.94" width="12.90" height="9.01" fill="#242424"/><rect x="303.54" y="34.75" width="5.42" height="1.5" fill="#242424"/><rect x="300.60" y="26.54" width="11.30" height="4.63" fill="#0f0f0f"/><rect x="301.00" y="31.88" width="10.50" height="2.34" fill="#3c3c3c"/><rect x="301.61" y="6.90" width="1.7" height="2.3" fill="#b4d030"/><rect x="301.61" y="4.60" width="1.7" height="1.3" fill="#777" opacity=".8"/><rect x="309.09" y="6.90" width="1.7" height="2.3" fill="#b4d030"/><rect x="309.09" y="4.60" width="1.7" height="1.3" fill="#777" opacity=".8"/><rect x="256.80" y="38.40" width="16.88" height="0.9" fill="#9a9a9a" opacity=".5"/><rect x="276.51" y="38.40" width="13.27" height="0.9" fill="#5f8f3a" opacity=".45"/><rect x="318.50" y="10.30" width="19.30" height="26.20" rx="0.8" fill="#f0eee9"/><rect x="321.10" y="12.92" width="14.10" height="8.65" fill="#242424"/><rect x="325.19" y="11.62" width="5.92" height="1.5" fill="#242424"/><rect x="321.90" y="16.55" width="12.50" height="4.41" fill="#0f0f0f"/><rect x="322.30" y="13.82" width="11.70" height="2.42" fill="#3c3c3c"/><rect x="321.10" y="26.02" width="14.10" height="8.65" fill="#242424"/><rect x="325.19" y="34.47" width="5.92" height="1.5" fill="#242424"/><rect x="321.90" y="26.62" width="12.50" height="4.41" fill="#0f0f0f"/><rect x="322.30" y="31.73" width="11.70" height="2.25" fill="#3c3c3c"/><rect x="325.50" y="31.26" width="2" height="3" fill="#c8a24a"/><rect x="340.90" y="10.60" width="17.40" height="26.20" rx="0.6" fill="#958f82"/><rect x="341.80" y="11.60" width="15.60" height="9.82" fill="#26211b"/><rect x="341.80" y="25.76" width="15.60" height="9.69" fill="#26211b"/><rect x="341.80" y="21.44" width="15.60" height="4.32" fill="#efeee9"/><rect x="343.40" y="12.90" width="12.40" height="2.62" fill="#4a453d"/><rect x="343.40" y="26.54" width="12.40" height="2.62" fill="#4a453d"/><circle cx="344.50" cy="23.40" r="0.8" fill="#333"/><circle cx="354.70" cy="23.40" r="0.8" fill="#333"/><rect x="321.50" y="5.6" width="1.5" height="1.9" fill="#b4d030"/><rect x="329.50" y="5.6" width="1.5" height="1.9" fill="#b4d030"/><rect x="319.00" y="6" width="2" height="1.3" fill="#aaa" opacity=".75"/><rect x="325.00" y="6" width="2" height="1.3" fill="#aaa" opacity=".75"/><rect x="332.00" y="6" width="2" height="1.3" fill="#aaa" opacity=".75"/><rect x="343.90" y="6" width="2" height="1.3" fill="#aaa" opacity=".75"/><rect x="351.90" y="6" width="2" height="1.3" fill="#aaa" opacity=".75"/><rect x="318.50" y="38.10" width="18" height="1.0" fill="#aaa" opacity=".7"/><rect x="339.50" y="38.00" width="1.6" height="1.3" fill="#5fb83a" opacity=".9"/><rect x="343.00" y="38.00" width="1.6" height="1.3" fill="#5fb83a" opacity=".9"/><rect x="346.50" y="37.90" width="1.6" height="1.4" fill="#e8a020"/><rect x="360.00" y="25.40" width="10.00" height="10.50" fill="#3a3a3a"/><text x="365.00" y="34.30" font-size="9" class="fm" fill="#9c9c9c" text-anchor="middle" textLength="7.60" lengthAdjust="spacingAndGlyphs">18</text><rect x="360.00" y="21.50" width="9.50" height="1.7" fill="#d0d0d0" opacity=".8"/></svg></div>
<svg width="900" height="580" viewBox="0 0 900 580"><path d="M813.4,346.1 L876.2,306.7" stroke="#e4e4e4" stroke-width="1.6" stroke-linecap="round" fill="none"/><path d="M813.6,346.8 L812.0,387.3" stroke="#6a6a6a" stroke-width="0.9" opacity=".8" fill="none"/></svg>
</body></html>
